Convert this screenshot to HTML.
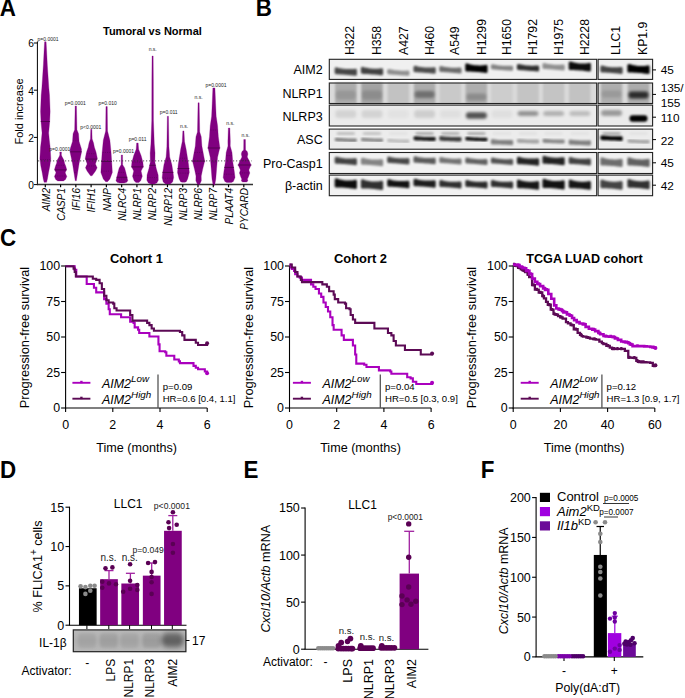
<!DOCTYPE html><html><head><meta charset="utf-8"><style>html,body{margin:0;padding:0;background:#fff;overflow:hidden}svg{display:block}text{font-family:"Liberation Sans",sans-serif}</style></head><body>
<svg width="685" height="698" viewBox="0 0 685 698">
<rect width="685" height="698" fill="#fff"/>
<text transform="translate(-0.20,16.40) scale(0.94,1)" font-size="23.8" font-weight="bold">A</text>
<text x="152.4" y="35.0" font-size="11" text-anchor="middle" font-weight="bold" font-style="normal" fill="#000" >Tumoral vs Normal</text>
<line x1="37.40" y1="41.50" x2="37.40" y2="185.10" stroke="#000" stroke-width="1" />
<line x1="36.90" y1="184.60" x2="253.00" y2="184.60" stroke="#333" stroke-width="1.5" />
<line x1="33.90" y1="184.60" x2="37.40" y2="184.60" stroke="#000" stroke-width="1" />
<text x="33.8" y="189.0" font-size="10.2" text-anchor="end" font-weight="normal" font-style="normal" fill="#000" >0</text>
<line x1="33.90" y1="137.40" x2="37.40" y2="137.40" stroke="#000" stroke-width="1" />
<text x="33.8" y="141.8" font-size="10.2" text-anchor="end" font-weight="normal" font-style="normal" fill="#000" >2</text>
<line x1="33.90" y1="90.20" x2="37.40" y2="90.20" stroke="#000" stroke-width="1" />
<text x="33.8" y="94.6" font-size="10.2" text-anchor="end" font-weight="normal" font-style="normal" fill="#000" >4</text>
<line x1="33.90" y1="43.00" x2="37.40" y2="43.00" stroke="#000" stroke-width="1" />
<text x="33.8" y="47.4" font-size="10.2" text-anchor="end" font-weight="normal" font-style="normal" fill="#000" >6</text>
<text transform="translate(23.3,111.5) rotate(-90)" font-size="11" text-anchor="middle">Fold increase</text>
<polygon points="46.10,41.70 46.57,50.00 47.32,65.00 48.17,78.00 48.83,88.00 49.49,95.00 50.14,111.40 49.67,122.00 48.64,132.90 49.30,140.00 50.14,147.00 50.80,158.60 49.86,166.00 48.45,172.90 47.42,179.00 46.57,182.30 44.13,182.30 43.28,179.00 42.25,172.90 40.84,166.00 39.90,158.60 40.56,147.00 41.40,140.00 42.06,132.90 41.03,122.00 40.56,111.40 41.21,95.00 41.87,88.00 42.53,78.00 43.38,65.00 44.13,50.00 44.60,41.70" fill="#800080" stroke="#800080" stroke-width="0.3" stroke-linejoin="round"/>
<line x1="40.73" y1="121.50" x2="49.97" y2="121.50" stroke="#4a0048" stroke-width="0.8" />
<polygon points="61.45,152.00 61.35,155.00 62.10,156.80 63.89,160.00 64.64,163.50 65.68,166.00 66.62,169.20 65.21,172.80 66.80,176.50 65.49,179.50 63.42,180.90 57.78,180.90 55.71,179.50 54.40,176.50 55.99,172.80 54.58,169.20 55.52,166.00 56.56,163.50 57.31,160.00 59.10,156.80 59.85,155.00 59.75,152.00" fill="#800080" stroke="#800080" stroke-width="0.3" stroke-linejoin="round"/>
<line x1="54.49" y1="169.90" x2="66.71" y2="169.90" stroke="#4a0048" stroke-width="0.8" />
<polygon points="76.46,106.00 76.93,129.80 78.53,133.70 79.09,141.50 81.53,149.20 81.35,153.00 79.09,163.40 77.68,172.40 76.36,180.80 75.24,180.80 73.92,172.40 72.51,163.40 70.25,153.00 70.07,149.20 72.51,141.50 73.07,133.70 74.67,129.80 75.14,106.00" fill="#800080" stroke="#800080" stroke-width="0.3" stroke-linejoin="round"/>
<line x1="69.84" y1="151.80" x2="81.76" y2="151.80" stroke="#4a0048" stroke-width="0.8" />
<polygon points="91.86,129.20 92.15,138.90 93.56,143.00 94.40,147.30 96.00,152.00 97.32,158.20 95.44,164.00 97.13,167.70 95.53,171.00 92.05,175.80 90.55,175.80 87.07,171.00 85.47,167.70 87.16,164.00 85.28,158.20 86.60,152.00 88.20,147.30 89.04,143.00 90.45,138.90 90.74,129.20" fill="#800080" stroke="#800080" stroke-width="0.3" stroke-linejoin="round"/>
<line x1="85.21" y1="159.10" x2="97.39" y2="159.10" stroke="#4a0048" stroke-width="0.8" />
<polygon points="107.26,106.60 107.54,131.10 109.89,140.20 111.11,153.00 112.05,167.30 112.33,172.40 109.89,178.90 107.54,181.70 105.66,181.70 103.31,178.90 100.87,172.40 101.15,167.30 102.09,153.00 103.31,140.20 105.66,131.10 105.94,106.60" fill="#800080" stroke="#800080" stroke-width="0.3" stroke-linejoin="round"/>
<line x1="101.21" y1="161.50" x2="111.99" y2="161.50" stroke="#4a0048" stroke-width="0.8" />
<polygon points="122.56,155.00 122.65,164.70 124.63,167.90 125.85,172.40 127.07,177.60 127.82,180.80 126.60,182.30 124.25,183.00 119.55,183.00 117.20,182.30 115.98,180.80 116.73,177.60 117.95,172.40 119.17,167.90 121.15,164.70 121.24,155.00" fill="#800080" stroke="#800080" stroke-width="0.3" stroke-linejoin="round"/>
<line x1="116.47" y1="177.30" x2="127.33" y2="177.30" stroke="#4a0048" stroke-width="0.8" />
<polygon points="138.15,143.00 138.62,149.20 141.07,155.60 142.85,162.10 143.32,166.60 141.07,171.10 142.29,176.30 140.69,180.80 138.81,182.50 135.99,182.50 134.11,180.80 132.51,176.30 133.73,171.10 131.48,166.60 131.95,162.10 133.73,155.60 136.18,149.20 136.65,143.00" fill="#800080" stroke="#800080" stroke-width="0.3" stroke-linejoin="round"/>
<line x1="131.26" y1="166.90" x2="143.54" y2="166.90" stroke="#4a0048" stroke-width="0.8" />
<polygon points="153.16,56.00 153.35,80.00 153.45,120.80 154.29,144.00 155.04,153.00 154.86,162.10 156.27,168.50 158.15,175.00 158.33,180.20 156.83,183.00 154.48,184.00 150.72,184.00 148.37,183.00 146.87,180.20 147.05,175.00 148.93,168.50 150.34,162.10 150.16,153.00 150.91,144.00 151.75,120.80 151.85,80.00 152.04,56.00" fill="#800080" stroke="#800080" stroke-width="0.3" stroke-linejoin="round"/>
<line x1="149.45" y1="165.30" x2="155.75" y2="165.30" stroke="#4a0048" stroke-width="0.8" />
<polygon points="168.46,116.30 168.93,146.60 169.69,156.90 171.85,164.70 173.07,172.40 173.63,177.60 172.60,182.00 170.25,184.00 165.55,184.00 163.20,182.00 162.17,177.60 162.73,172.40 163.95,164.70 166.11,156.90 166.87,146.60 167.34,116.30" fill="#800080" stroke="#800080" stroke-width="0.3" stroke-linejoin="round"/>
<line x1="162.40" y1="172.40" x2="173.40" y2="172.40" stroke="#4a0048" stroke-width="0.8" />
<polygon points="183.96,130.90 184.53,141.50 186.13,149.20 187.35,156.90 188.57,164.70 189.32,172.40 187.63,178.90 186.22,181.70 184.81,182.20 181.99,182.20 180.58,181.70 179.17,178.90 177.48,172.40 178.23,164.70 179.45,156.90 180.67,149.20 182.27,141.50 182.84,130.90" fill="#800080" stroke="#800080" stroke-width="0.3" stroke-linejoin="round"/>
<line x1="177.51" y1="168.50" x2="189.29" y2="168.50" stroke="#4a0048" stroke-width="0.8" />
<polygon points="199.16,102.80 199.73,132.00 201.23,136.70 201.89,146.10 203.39,154.00 204.71,161.10 202.55,169.80 201.23,176.00 201.33,180.80 199.54,184.70 197.66,184.70 195.87,180.80 195.97,176.00 194.65,169.80 192.49,161.10 193.81,154.00 195.31,146.10 195.97,136.70 197.47,132.00 198.04,102.80" fill="#800080" stroke="#800080" stroke-width="0.3" stroke-linejoin="round"/>
<line x1="192.10" y1="161.10" x2="205.10" y2="161.10" stroke="#4a0048" stroke-width="0.8" />
<polygon points="214.93,87.90 215.59,103.60 216.16,116.20 217.57,125.70 218.32,136.70 219.82,147.70 217.57,157.20 216.63,168.20 215.78,179.20 214.65,185.20 213.15,185.20 212.02,179.20 211.17,168.20 210.23,157.20 207.98,147.70 209.48,136.70 210.23,125.70 211.64,116.20 212.21,103.60 212.87,87.90" fill="#800080" stroke="#800080" stroke-width="0.3" stroke-linejoin="round"/>
<line x1="207.68" y1="148.00" x2="220.12" y2="148.00" stroke="#4a0048" stroke-width="0.8" />
<polygon points="229.85,128.00 230.32,141.40 230.23,146.10 232.01,152.40 232.77,161.90 234.27,171.30 235.02,177.60 233.33,181.50 231.45,182.40 226.75,182.40 224.87,181.50 223.18,177.60 223.93,171.30 225.43,161.90 226.19,152.40 227.97,146.10 227.88,141.40 228.35,128.00" fill="#800080" stroke="#800080" stroke-width="0.3" stroke-linejoin="round"/>
<line x1="224.26" y1="167.40" x2="233.94" y2="167.40" stroke="#4a0048" stroke-width="0.8" />
<polygon points="245.45,139.50 245.45,142.00 245.54,150.00 247.23,151.50 247.89,154.00 247.23,157.00 249.30,161.00 250.99,165.00 248.83,170.00 249.77,173.00 248.36,177.00 247.42,179.00 247.89,181.00 246.48,182.00 242.72,182.00 241.31,181.00 241.78,179.00 240.84,177.00 239.43,173.00 240.37,170.00 238.21,165.00 239.90,161.00 241.97,157.00 241.31,154.00 241.97,151.50 243.66,150.00 243.75,142.00 243.75,139.50" fill="#800080" stroke="#800080" stroke-width="0.3" stroke-linejoin="round"/>
<line x1="237.80" y1="165.00" x2="251.40" y2="165.00" stroke="#4a0048" stroke-width="0.8" />
<line x1="40.47" y1="159.50" x2="50.23" y2="159.50" stroke="#5a005a" stroke-width="0.7" stroke-dasharray="1,1.2"/>
<line x1="56.31" y1="165.30" x2="64.89" y2="165.30" stroke="#5a005a" stroke-width="0.7" stroke-dasharray="1,1.2"/>
<line x1="55.03" y1="176.00" x2="66.17" y2="176.00" stroke="#5a005a" stroke-width="0.7" stroke-dasharray="1,1.2"/>
<line x1="73.15" y1="140.80" x2="78.45" y2="140.80" stroke="#5a005a" stroke-width="0.7" stroke-dasharray="1,1.2"/>
<line x1="74.60" y1="172.40" x2="77.00" y2="172.40" stroke="#5a005a" stroke-width="0.7" stroke-dasharray="1,1.2"/>
<line x1="86.72" y1="153.70" x2="95.88" y2="153.70" stroke="#5a005a" stroke-width="0.7" stroke-dasharray="1,1.2"/>
<line x1="86.73" y1="166.00" x2="95.87" y2="166.00" stroke="#5a005a" stroke-width="0.7" stroke-dasharray="1,1.2"/>
<line x1="102.66" y1="152.40" x2="110.54" y2="152.40" stroke="#5a005a" stroke-width="0.7" stroke-dasharray="1,1.2"/>
<line x1="101.38" y1="171.10" x2="111.82" y2="171.10" stroke="#5a005a" stroke-width="0.7" stroke-dasharray="1,1.2"/>
<line x1="118.50" y1="172.40" x2="125.30" y2="172.40" stroke="#5a005a" stroke-width="0.7" stroke-dasharray="1,1.2"/>
<line x1="116.85" y1="179.00" x2="126.95" y2="179.00" stroke="#5a005a" stroke-width="0.7" stroke-dasharray="1,1.2"/>
<line x1="132.40" y1="162.10" x2="142.40" y2="162.10" stroke="#5a005a" stroke-width="0.7" stroke-dasharray="1,1.2"/>
<line x1="133.18" y1="175.60" x2="141.62" y2="175.60" stroke="#5a005a" stroke-width="0.7" stroke-dasharray="1,1.2"/>
<line x1="147.40" y1="177.60" x2="157.80" y2="177.60" stroke="#5a005a" stroke-width="0.7" stroke-dasharray="1,1.2"/>
<line x1="162.75" y1="178.20" x2="173.05" y2="178.20" stroke="#5a005a" stroke-width="0.7" stroke-dasharray="1,1.2"/>
<line x1="179.78" y1="158.20" x2="187.02" y2="158.20" stroke="#5a005a" stroke-width="0.7" stroke-dasharray="1,1.2"/>
<line x1="178.09" y1="173.10" x2="188.71" y2="173.10" stroke="#5a005a" stroke-width="0.7" stroke-dasharray="1,1.2"/>
<line x1="194.62" y1="152.40" x2="202.58" y2="152.40" stroke="#5a005a" stroke-width="0.7" stroke-dasharray="1,1.2"/>
<line x1="196.08" y1="173.70" x2="201.12" y2="173.70" stroke="#5a005a" stroke-width="0.7" stroke-dasharray="1,1.2"/>
<line x1="210.49" y1="130.00" x2="217.31" y2="130.00" stroke="#5a005a" stroke-width="0.7" stroke-dasharray="1,1.2"/>
<line x1="211.24" y1="162.00" x2="216.56" y2="162.00" stroke="#5a005a" stroke-width="0.7" stroke-dasharray="1,1.2"/>
<line x1="226.53" y1="155.60" x2="231.67" y2="155.60" stroke="#5a005a" stroke-width="0.7" stroke-dasharray="1,1.2"/>
<line x1="224.03" y1="174.20" x2="234.17" y2="174.20" stroke="#5a005a" stroke-width="0.7" stroke-dasharray="1,1.2"/>
<line x1="240.78" y1="160.30" x2="248.41" y2="160.30" stroke="#5a005a" stroke-width="0.7" stroke-dasharray="1,1.2"/>
<line x1="239.93" y1="172.90" x2="249.27" y2="172.90" stroke="#5a005a" stroke-width="0.7" stroke-dasharray="1,1.2"/>
<line x1="38.00" y1="160.90" x2="251.60" y2="160.90" stroke="#333" stroke-width="0.8" stroke-dasharray="1.2,1.8"/>
<text x="48.1" y="40.5" font-size="5.0" text-anchor="middle" font-weight="normal" font-style="normal" fill="#222" >p=0.0001</text>
<text x="59.8" y="151.3" font-size="5.0" text-anchor="middle" font-weight="normal" font-style="normal" fill="#222" >p=0.0001</text>
<text x="75.3" y="105.3" font-size="5.0" text-anchor="middle" font-weight="normal" font-style="normal" fill="#222" >p=0.0001</text>
<text x="90.8" y="129.0" font-size="5.0" text-anchor="middle" font-weight="normal" font-style="normal" fill="#222" >p&lt;0.0001</text>
<text x="107.7" y="105.3" font-size="5.0" text-anchor="middle" font-weight="normal" font-style="normal" fill="#222" >p=0.010</text>
<text x="123.6" y="152.7" font-size="5.0" text-anchor="middle" font-weight="normal" font-style="normal" fill="#222" >p=0.0001</text>
<text x="137.6" y="140.8" font-size="5.0" text-anchor="middle" font-weight="normal" font-style="normal" fill="#222" >p=0.011</text>
<text x="152.7" y="51.3" font-size="5.0" text-anchor="middle" font-weight="normal" font-style="normal" fill="#222" >n.s.</text>
<text x="168.7" y="113.9" font-size="5.0" text-anchor="middle" font-weight="normal" font-style="normal" fill="#222" >p=0.011</text>
<text x="184.1" y="127.5" font-size="5.0" text-anchor="middle" font-weight="normal" font-style="normal" fill="#222" >n.s.</text>
<text x="198.5" y="98.7" font-size="5.0" text-anchor="middle" font-weight="normal" font-style="normal" fill="#222" >n.s.</text>
<text x="216.0" y="87.0" font-size="5.0" text-anchor="middle" font-weight="normal" font-style="normal" fill="#222" >p=0.0001</text>
<text x="230.3" y="124.5" font-size="5.0" text-anchor="middle" font-weight="normal" font-style="normal" fill="#222" >n.s.</text>
<text x="245.5" y="137.2" font-size="5.0" text-anchor="middle" font-weight="normal" font-style="normal" fill="#222" >n.s.</text>
<line x1="45.30" y1="184.60" x2="45.30" y2="187.20" stroke="#000" stroke-width="1.2" />
<text transform="translate(49.50,188) rotate(-90)" font-size="10" font-style="italic" text-anchor="end">AIM2</text>
<line x1="60.57" y1="184.60" x2="60.57" y2="187.20" stroke="#000" stroke-width="1.2" />
<text transform="translate(64.77,188) rotate(-90)" font-size="10" font-style="italic" text-anchor="end">CASP1</text>
<line x1="75.84" y1="184.60" x2="75.84" y2="187.20" stroke="#000" stroke-width="1.2" />
<text transform="translate(80.04,188) rotate(-90)" font-size="10" font-style="italic" text-anchor="end">IFI16</text>
<line x1="91.11" y1="184.60" x2="91.11" y2="187.20" stroke="#000" stroke-width="1.2" />
<text transform="translate(95.31,188) rotate(-90)" font-size="10" font-style="italic" text-anchor="end">IFIH1</text>
<line x1="106.38" y1="184.60" x2="106.38" y2="187.20" stroke="#000" stroke-width="1.2" />
<text transform="translate(110.58,188) rotate(-90)" font-size="10" font-style="italic" text-anchor="end">NAIP</text>
<line x1="121.65" y1="184.60" x2="121.65" y2="187.20" stroke="#000" stroke-width="1.2" />
<text transform="translate(125.85,188) rotate(-90)" font-size="10" font-style="italic" text-anchor="end">NLRC4</text>
<line x1="136.92" y1="184.60" x2="136.92" y2="187.20" stroke="#000" stroke-width="1.2" />
<text transform="translate(141.12,188) rotate(-90)" font-size="10" font-style="italic" text-anchor="end">NLRP1</text>
<line x1="152.19" y1="184.60" x2="152.19" y2="187.20" stroke="#000" stroke-width="1.2" />
<text transform="translate(156.39,188) rotate(-90)" font-size="10" font-style="italic" text-anchor="end">NLRP2</text>
<line x1="167.46" y1="184.60" x2="167.46" y2="187.20" stroke="#000" stroke-width="1.2" />
<text transform="translate(171.66,188) rotate(-90)" font-size="10" font-style="italic" text-anchor="end">NLRP12</text>
<line x1="182.73" y1="184.60" x2="182.73" y2="187.20" stroke="#000" stroke-width="1.2" />
<text transform="translate(186.93,188) rotate(-90)" font-size="10" font-style="italic" text-anchor="end">NLRP3</text>
<line x1="198.00" y1="184.60" x2="198.00" y2="187.20" stroke="#000" stroke-width="1.2" />
<text transform="translate(202.20,188) rotate(-90)" font-size="10" font-style="italic" text-anchor="end">NLRP6</text>
<line x1="213.27" y1="184.60" x2="213.27" y2="187.20" stroke="#000" stroke-width="1.2" />
<text transform="translate(217.47,188) rotate(-90)" font-size="10" font-style="italic" text-anchor="end">NLRP7</text>
<line x1="228.54" y1="184.60" x2="228.54" y2="187.20" stroke="#000" stroke-width="1.2" />
<text transform="translate(232.74,188) rotate(-90)" font-size="10" font-style="italic" text-anchor="end">PLAAT4</text>
<line x1="243.81" y1="184.60" x2="243.81" y2="187.20" stroke="#000" stroke-width="1.2" />
<text transform="translate(248.01,188) rotate(-90)" font-size="10" font-style="italic" text-anchor="end">PYCARD</text>
<text transform="translate(255.80,16.20) scale(0.94,1)" font-size="23.8" font-weight="bold">B</text>
<text transform="translate(354.4,55) rotate(-90)" font-size="12.2">H322</text>
<text transform="translate(381.4,55) rotate(-90)" font-size="12.2">H358</text>
<text transform="translate(407.9,55) rotate(-90)" font-size="12.2">A427</text>
<text transform="translate(434.4,55) rotate(-90)" font-size="12.2">H460</text>
<text transform="translate(459.4,55) rotate(-90)" font-size="12.2">A549</text>
<text transform="translate(485.8,55) rotate(-90)" font-size="12.2">H1299</text>
<text transform="translate(511.4,55) rotate(-90)" font-size="12.2">H1650</text>
<text transform="translate(537.4,55) rotate(-90)" font-size="12.2">H1792</text>
<text transform="translate(563.0,55) rotate(-90)" font-size="12.2">H1975</text>
<text transform="translate(589.2,55) rotate(-90)" font-size="12.2">H2228</text>
<text transform="translate(620.4,55) rotate(-90)" font-size="12.2">LLC1</text>
<text transform="translate(647.4,55) rotate(-90)" font-size="12.2">KP1.9</text>
<defs><filter id="bl6" x="-50%" y="-100%" width="200%" height="300%"><feGaussianBlur stdDeviation="0.6"/></filter><filter id="bl7" x="-50%" y="-100%" width="200%" height="300%"><feGaussianBlur stdDeviation="0.7"/></filter><filter id="bl8" x="-50%" y="-100%" width="200%" height="300%"><feGaussianBlur stdDeviation="0.8"/></filter><filter id="bl9" x="-50%" y="-100%" width="200%" height="300%"><feGaussianBlur stdDeviation="0.9"/></filter><filter id="bl10" x="-50%" y="-100%" width="200%" height="300%"><feGaussianBlur stdDeviation="1.0"/></filter><filter id="bl11" x="-50%" y="-100%" width="200%" height="300%"><feGaussianBlur stdDeviation="1.1"/></filter><filter id="bl14" x="-50%" y="-100%" width="200%" height="300%"><feGaussianBlur stdDeviation="1.4"/></filter><filter id="bl16" x="-50%" y="-100%" width="200%" height="300%"><feGaussianBlur stdDeviation="1.6"/></filter><filter id="bl18" x="-50%" y="-100%" width="200%" height="300%"><feGaussianBlur stdDeviation="1.8"/></filter><filter id="bl20" x="-50%" y="-100%" width="200%" height="300%"><feGaussianBlur stdDeviation="2.0"/></filter><filter id="bl25" x="-50%" y="-100%" width="200%" height="300%"><feGaussianBlur stdDeviation="2.5"/></filter><clipPath id="cl"><rect x="329.3" y="0" width="267.4" height="698"/></clipPath><clipPath id="cr"><rect x="598.1" y="0" width="54.5" height="698"/></clipPath></defs>
<rect x="329.30" y="59.30" width="267.40" height="20.10" fill="#f0f0f0" />
<rect x="598.10" y="59.30" width="54.50" height="20.10" fill="#f0f0f0" />
<g clip-path="url(#cl)"><g opacity="0.70" filter="url(#bl8)"><path d="M336.15,68.74 L337.53,69.11 L338.91,69.44 L340.29,69.72 L341.66,69.97 L343.04,70.18 L344.42,70.35 L345.80,70.47 L347.18,70.56 L348.56,70.61 L349.94,70.62 L351.31,70.58 L352.69,70.51 L354.07,70.39 L355.45,70.24 L355.45,74.26 L354.07,74.09 L352.69,73.93 L351.31,73.78 L349.94,73.64 L348.56,73.51 L347.18,73.39 L345.80,73.28 L344.42,73.17 L343.04,73.08 L341.66,73.00 L340.29,72.92 L338.91,72.86 L337.53,72.81 L336.15,72.76Z" fill="#000" stroke="#000" stroke-width="3" stroke-linejoin="round"/></g></g>
<g clip-path="url(#cl)"><g opacity="0.72" filter="url(#bl8)"><path d="M362.35,68.34 L363.73,68.71 L365.11,69.04 L366.49,69.32 L367.86,69.57 L369.24,69.78 L370.62,69.95 L372.00,70.08 L373.38,70.16 L374.76,70.21 L376.14,70.22 L377.51,70.18 L378.89,70.11 L380.27,69.99 L381.65,69.84 L381.65,73.86 L380.27,73.69 L378.89,73.53 L377.51,73.38 L376.14,73.24 L374.76,73.11 L373.38,72.99 L372.00,72.88 L370.62,72.77 L369.24,72.68 L367.86,72.60 L366.49,72.52 L365.11,72.46 L363.73,72.41 L362.35,72.36Z" fill="#000" stroke="#000" stroke-width="3" stroke-linejoin="round"/></g></g>
<g clip-path="url(#cl)"><g opacity="0.40" filter="url(#bl8)"><path d="M388.65,70.50 L390.03,70.80 L391.41,71.07 L392.79,71.31 L394.16,71.52 L395.54,71.70 L396.92,71.85 L398.30,71.98 L399.68,72.07 L401.06,72.13 L402.44,72.16 L403.81,72.17 L405.19,72.14 L406.57,72.09 L407.95,72.00 L407.95,74.30 L406.57,74.20 L405.19,74.10 L403.81,74.00 L402.44,73.89 L401.06,73.79 L399.68,73.68 L398.30,73.58 L396.92,73.47 L395.54,73.36 L394.16,73.25 L392.79,73.14 L391.41,73.03 L390.03,72.91 L388.65,72.80Z" fill="#000" stroke="#000" stroke-width="3" stroke-linejoin="round"/></g></g>
<g clip-path="url(#cl)"><g opacity="0.68" filter="url(#bl8)"><path d="M414.95,67.23 L416.33,67.57 L417.71,67.88 L419.09,68.15 L420.46,68.39 L421.84,68.59 L423.22,68.75 L424.60,68.88 L425.98,68.96 L427.36,69.02 L428.74,69.03 L430.11,69.01 L431.49,68.95 L432.87,68.86 L434.25,68.73 L434.25,72.17 L432.87,72.03 L431.49,71.89 L430.11,71.75 L428.74,71.62 L427.36,71.50 L425.98,71.39 L424.60,71.28 L423.22,71.17 L421.84,71.07 L420.46,70.98 L419.09,70.90 L417.71,70.82 L416.33,70.74 L414.95,70.67Z" fill="#000" stroke="#000" stroke-width="3" stroke-linejoin="round"/></g></g>
<g clip-path="url(#cl)"><g opacity="0.55" filter="url(#bl8)"><path d="M440.75,67.51 L442.13,67.84 L443.51,68.12 L444.89,68.38 L446.26,68.60 L447.64,68.79 L449.02,68.95 L450.40,69.08 L451.78,69.17 L453.16,69.22 L454.54,69.25 L455.91,69.24 L457.29,69.20 L458.67,69.12 L460.05,69.01 L460.05,71.89 L458.67,71.76 L457.29,71.64 L455.91,71.52 L454.54,71.41 L453.16,71.29 L451.78,71.18 L450.40,71.08 L449.02,70.97 L447.64,70.87 L446.26,70.77 L444.89,70.67 L443.51,70.57 L442.13,70.48 L440.75,70.39Z" fill="#000" stroke="#000" stroke-width="3" stroke-linejoin="round"/></g></g>
<g clip-path="url(#cl)"><g opacity="1.00" filter="url(#bl8)"><path d="M466.75,64.86 L468.13,65.28 L469.51,65.65 L470.89,65.97 L472.26,66.24 L473.64,66.47 L475.02,66.64 L476.40,66.78 L477.78,66.86 L479.16,66.89 L480.54,66.88 L481.91,66.82 L483.29,66.72 L484.67,66.56 L486.05,66.36 L486.05,71.54 L484.67,71.32 L483.29,71.12 L481.91,70.94 L480.54,70.77 L479.16,70.62 L477.78,70.49 L476.40,70.38 L475.02,70.28 L473.64,70.19 L472.26,70.13 L470.89,70.08 L469.51,70.05 L468.13,70.04 L466.75,70.04Z" fill="#000" stroke="#000" stroke-width="3" stroke-linejoin="round"/></g></g>
<g clip-path="url(#cl)"><g opacity="0.45" filter="url(#bl8)"><path d="M492.35,65.72 L493.73,66.01 L495.11,66.27 L496.49,66.50 L497.86,66.71 L499.24,66.88 L500.62,67.03 L502.00,67.16 L503.38,67.25 L504.76,67.31 L506.14,67.35 L507.51,67.36 L508.89,67.34 L510.27,67.29 L511.65,67.22 L511.65,69.28 L510.27,69.19 L508.89,69.10 L507.51,69.00 L506.14,68.91 L504.76,68.80 L503.38,68.70 L502.00,68.59 L500.62,68.49 L499.24,68.38 L497.86,68.26 L496.49,68.15 L495.11,68.03 L493.73,67.91 L492.35,67.78Z" fill="#000" stroke="#000" stroke-width="3" stroke-linejoin="round"/></g></g>
<g clip-path="url(#cl)"><g opacity="0.80" filter="url(#bl8)"><path d="M518.35,65.40 L519.73,65.73 L521.11,66.03 L522.49,66.29 L523.86,66.52 L525.24,66.71 L526.62,66.87 L528.00,67.00 L529.38,67.08 L530.76,67.14 L532.14,67.16 L533.51,67.15 L534.89,67.10 L536.27,67.02 L537.65,66.90 L537.65,70.00 L536.27,69.87 L534.89,69.74 L533.51,69.62 L532.14,69.49 L530.76,69.38 L529.38,69.26 L528.00,69.16 L526.62,69.05 L525.24,68.95 L523.86,68.85 L522.49,68.76 L521.11,68.67 L519.73,68.58 L518.35,68.50Z" fill="#000" stroke="#000" stroke-width="3" stroke-linejoin="round"/></g></g>
<g clip-path="url(#cl)"><g opacity="0.40" filter="url(#bl8)"><path d="M543.95,64.51 L545.33,64.84 L546.71,65.12 L548.09,65.38 L549.46,65.60 L550.84,65.79 L552.22,65.95 L553.60,66.08 L554.98,66.17 L556.36,66.22 L557.74,66.25 L559.11,66.24 L560.49,66.20 L561.87,66.12 L563.25,66.01 L563.25,68.89 L561.87,68.76 L560.49,68.64 L559.11,68.52 L557.74,68.41 L556.36,68.29 L554.98,68.18 L553.60,68.08 L552.22,67.97 L550.84,67.87 L549.46,67.77 L548.09,67.67 L546.71,67.57 L545.33,67.48 L543.95,67.39Z" fill="#000" stroke="#000" stroke-width="3" stroke-linejoin="round"/></g></g>
<g clip-path="url(#cl)"><g opacity="0.95" filter="url(#bl8)"><path d="M570.15,62.88 L571.53,63.31 L572.91,63.70 L574.29,64.04 L575.66,64.32 L577.04,64.56 L578.42,64.74 L579.80,64.88 L581.18,64.96 L582.56,64.99 L583.94,64.97 L585.31,64.90 L586.69,64.77 L588.07,64.60 L589.45,64.38 L589.45,70.12 L588.07,69.89 L586.69,69.67 L585.31,69.47 L583.94,69.29 L582.56,69.13 L581.18,68.99 L579.80,68.88 L578.42,68.78 L577.04,68.70 L575.66,68.65 L574.29,68.61 L572.91,68.59 L571.53,68.60 L570.15,68.62Z" fill="#000" stroke="#000" stroke-width="3" stroke-linejoin="round"/></g></g>
<g clip-path="url(#cr)"><g opacity="0.72" filter="url(#bl8)"><path d="M601.85,66.94 L603.23,67.31 L604.61,67.64 L605.99,67.92 L607.36,68.17 L608.74,68.38 L610.12,68.55 L611.50,68.67 L612.88,68.76 L614.26,68.81 L615.64,68.82 L617.01,68.78 L618.39,68.71 L619.77,68.59 L621.15,68.44 L621.15,72.46 L619.77,72.29 L618.39,72.13 L617.01,71.98 L615.64,71.84 L614.26,71.71 L612.88,71.59 L611.50,71.48 L610.12,71.37 L608.74,71.28 L607.36,71.20 L605.99,71.12 L604.61,71.06 L603.23,71.01 L601.85,70.96Z" fill="#000" stroke="#000" stroke-width="3" stroke-linejoin="round"/></g></g>
<g clip-path="url(#cr)"><g opacity="1.00" filter="url(#bl8)"><path d="M628.85,65.38 L630.23,65.81 L631.61,66.20 L632.99,66.54 L634.36,66.82 L635.74,67.06 L637.12,67.24 L638.50,67.38 L639.88,67.46 L641.26,67.49 L642.64,67.47 L644.01,67.40 L645.39,67.27 L646.77,67.10 L648.15,66.88 L648.15,72.62 L646.77,72.39 L645.39,72.17 L644.01,71.97 L642.64,71.79 L641.26,71.63 L639.88,71.49 L638.50,71.38 L637.12,71.28 L635.74,71.20 L634.36,71.15 L632.99,71.11 L631.61,71.09 L630.23,71.10 L628.85,71.12Z" fill="#000" stroke="#000" stroke-width="3" stroke-linejoin="round"/></g></g>
<rect x="329.30" y="59.30" width="267.40" height="20.10" fill="none" stroke="#222" stroke-width="1.1"/>
<rect x="598.10" y="59.30" width="54.50" height="20.10" fill="none" stroke="#222" stroke-width="1.1"/>
<text x="322.7" y="73.9" font-size="12.5" text-anchor="end" font-weight="normal" font-style="normal" fill="#000" >AIM2</text>
<rect x="329.30" y="83.00" width="267.40" height="20.50" fill="#dadada" />
<rect x="598.10" y="83.00" width="54.50" height="20.50" fill="#dadada" />
<g clip-path="url(#cl)"><rect x="335.1" y="82.7" width="21.5" height="21.0" rx="1" fill="#000" fill-opacity="0.21" filter="url(#bl11)"/></g>
<g clip-path="url(#cl)"><rect x="335.8" y="90.5" width="20.0" height="9.0" rx="3" fill="#000" fill-opacity="0.12" filter="url(#bl18)"/></g>
<g clip-path="url(#cl)"><rect x="361.2" y="82.7" width="21.5" height="21.0" rx="1" fill="#000" fill-opacity="0.25" filter="url(#bl11)"/></g>
<g clip-path="url(#cl)"><rect x="362.0" y="90.5" width="20.0" height="9.0" rx="3" fill="#000" fill-opacity="0.14" filter="url(#bl18)"/></g>
<g clip-path="url(#cl)"><rect x="387.6" y="82.7" width="21.5" height="21.0" rx="1" fill="#000" fill-opacity="0.11" filter="url(#bl11)"/></g>
<g clip-path="url(#cl)"><rect x="413.9" y="82.7" width="21.5" height="21.0" rx="1" fill="#000" fill-opacity="0.21" filter="url(#bl11)"/></g>
<g clip-path="url(#cl)"><rect x="414.6" y="90.9" width="20.0" height="7.0" rx="3" fill="#000" fill-opacity="0.35" filter="url(#bl18)"/></g>
<g clip-path="url(#cl)"><rect x="439.6" y="82.7" width="21.5" height="21.0" rx="1" fill="#000" fill-opacity="0.08" filter="url(#bl11)"/></g>
<g clip-path="url(#cl)"><rect x="465.6" y="82.7" width="21.5" height="21.0" rx="1" fill="#000" fill-opacity="0.20" filter="url(#bl11)"/></g>
<g clip-path="url(#cl)"><rect x="466.4" y="93.5" width="20.0" height="7.0" rx="3" fill="#000" fill-opacity="0.20" filter="url(#bl18)"/></g>
<g clip-path="url(#cl)"><rect x="491.2" y="82.7" width="21.5" height="21.0" rx="1" fill="#000" fill-opacity="0.06" filter="url(#bl11)"/></g>
<g clip-path="url(#cl)"><rect x="517.2" y="82.7" width="21.5" height="21.0" rx="1" fill="#000" fill-opacity="0.10" filter="url(#bl11)"/></g>
<g clip-path="url(#cl)"><rect x="542.9" y="82.7" width="21.5" height="21.0" rx="1" fill="#000" fill-opacity="0.10" filter="url(#bl11)"/></g>
<g clip-path="url(#cl)"><rect x="569.0" y="82.7" width="21.5" height="21.0" rx="1" fill="#000" fill-opacity="0.11" filter="url(#bl11)"/></g>
<g clip-path="url(#cr)"><rect x="600.8" y="82.7" width="21.5" height="21.0" rx="1" fill="#000" fill-opacity="0.20" filter="url(#bl11)"/></g>
<g clip-path="url(#cr)"><rect x="601.5" y="90.5" width="20.0" height="7.0" rx="3" fill="#000" fill-opacity="0.12" filter="url(#bl18)"/></g>
<g clip-path="url(#cr)"><rect x="627.8" y="82.7" width="21.5" height="21.0" rx="1" fill="#000" fill-opacity="0.21" filter="url(#bl11)"/></g>
<g clip-path="url(#cr)"><rect x="628.5" y="91.5" width="20.0" height="7.0" rx="3" fill="#000" fill-opacity="0.75" filter="url(#bl18)"/></g>
<rect x="329.30" y="83.00" width="267.40" height="20.50" fill="none" stroke="#222" stroke-width="1.1"/>
<rect x="598.10" y="83.00" width="54.50" height="20.50" fill="none" stroke="#222" stroke-width="1.1"/>
<text x="322.7" y="98.4" font-size="12.5" text-anchor="end" font-weight="normal" font-style="normal" fill="#000" >NLRP1</text>
<rect x="329.30" y="105.10" width="267.40" height="20.90" fill="#ebebeb" />
<rect x="598.10" y="105.10" width="54.50" height="20.90" fill="#ebebeb" />
<g clip-path="url(#cl)"><rect x="335.3" y="110.0" width="21.0" height="8.0" rx="3" fill="#000" fill-opacity="0.10" filter="url(#bl16)"/></g>
<g clip-path="url(#cl)"><rect x="361.5" y="110.0" width="21.0" height="8.0" rx="3" fill="#000" fill-opacity="0.10" filter="url(#bl16)"/></g>
<g clip-path="url(#cl)"><rect x="387.8" y="110.0" width="21.0" height="8.0" rx="3" fill="#000" fill-opacity="0.04" filter="url(#bl16)"/></g>
<g clip-path="url(#cl)"><rect x="414.1" y="110.0" width="21.0" height="8.0" rx="3" fill="#000" fill-opacity="0.12" filter="url(#bl16)"/></g>
<g clip-path="url(#cl)"><rect x="439.9" y="110.0" width="21.0" height="8.0" rx="3" fill="#000" fill-opacity="0.05" filter="url(#bl16)"/></g>
<g clip-path="url(#cl)"><rect x="465.9" y="112.2" width="21.0" height="6.5" rx="3" fill="#000" fill-opacity="0.65" filter="url(#bl16)"/></g>
<g clip-path="url(#cl)"><rect x="491.5" y="110.0" width="21.0" height="8.0" rx="3" fill="#000" fill-opacity="0.05" filter="url(#bl16)"/></g>
<g clip-path="url(#cl)"><rect x="517.5" y="111.0" width="21.0" height="5.0" rx="3" fill="#000" fill-opacity="0.38" filter="url(#bl16)"/></g>
<g clip-path="url(#cl)"><rect x="543.1" y="111.0" width="21.0" height="5.0" rx="3" fill="#000" fill-opacity="0.25" filter="url(#bl16)"/></g>
<g clip-path="url(#cl)"><rect x="569.3" y="111.0" width="21.0" height="5.0" rx="3" fill="#000" fill-opacity="0.20" filter="url(#bl16)"/></g>
<g clip-path="url(#cr)"><rect x="601.0" y="110.0" width="21.0" height="6.0" rx="3" fill="#000" fill-opacity="0.35" filter="url(#bl16)"/></g>
<g clip-path="url(#cr)"><rect x="629.5" y="115.2" width="18.0" height="6.5" rx="3" fill="#000" fill-opacity="1.00" filter="url(#bl10)"/></g>
<rect x="329.30" y="105.10" width="267.40" height="20.90" fill="none" stroke="#222" stroke-width="1.1"/>
<rect x="598.10" y="105.10" width="54.50" height="20.90" fill="none" stroke="#222" stroke-width="1.1"/>
<text x="322.7" y="120.8" font-size="12.5" text-anchor="end" font-weight="normal" font-style="normal" fill="#000" >NLRP3</text>
<rect x="329.30" y="129.10" width="267.40" height="20.10" fill="#ececec" />
<rect x="598.10" y="129.10" width="54.50" height="20.10" fill="#ececec" />
<g clip-path="url(#cl)"><g opacity="0.45" filter="url(#bl9)"><path d="M336.15,139.15 L337.53,139.29 L338.91,139.41 L340.29,139.52 L341.66,139.62 L343.04,139.70 L344.42,139.78 L345.80,139.84 L347.18,139.89 L348.56,139.93 L349.94,139.96 L351.31,139.97 L352.69,139.98 L354.07,139.97 L355.45,139.95 L355.45,140.53 L354.07,140.50 L352.69,140.47 L351.31,140.43 L349.94,140.39 L348.56,140.35 L347.18,140.29 L345.80,140.24 L344.42,140.18 L343.04,140.12 L341.66,140.05 L340.29,139.97 L338.91,139.90 L337.53,139.81 L336.15,139.73Z" fill="#000" stroke="#000" stroke-width="3" stroke-linejoin="round"/></g></g>
<g clip-path="url(#cl)"><g opacity="0.42" filter="url(#bl9)"><path d="M362.35,139.15 L363.73,139.29 L365.11,139.41 L366.49,139.52 L367.86,139.62 L369.24,139.70 L370.62,139.78 L372.00,139.84 L373.38,139.89 L374.76,139.93 L376.14,139.96 L377.51,139.97 L378.89,139.98 L380.27,139.97 L381.65,139.95 L381.65,140.53 L380.27,140.50 L378.89,140.47 L377.51,140.43 L376.14,140.39 L374.76,140.35 L373.38,140.29 L372.00,140.24 L370.62,140.18 L369.24,140.12 L367.86,140.05 L366.49,139.97 L365.11,139.90 L363.73,139.81 L362.35,139.73Z" fill="#000" stroke="#000" stroke-width="3" stroke-linejoin="round"/></g></g>
<g clip-path="url(#cl)"><g opacity="0.20" filter="url(#bl9)"><path d="M388.65,140.21 L390.03,140.34 L391.41,140.46 L392.79,140.56 L394.16,140.66 L395.54,140.74 L396.92,140.82 L398.30,140.88 L399.68,140.93 L401.06,140.97 L402.44,141.00 L403.81,141.02 L405.19,141.03 L406.57,141.02 L407.95,141.01 L407.95,141.47 L406.57,141.45 L405.19,141.42 L403.81,141.39 L402.44,141.35 L401.06,141.30 L399.68,141.25 L398.30,141.20 L396.92,141.14 L395.54,141.08 L394.16,141.00 L392.79,140.93 L391.41,140.85 L390.03,140.76 L388.65,140.67Z" fill="#000" stroke="#000" stroke-width="3" stroke-linejoin="round"/></g></g>
<g clip-path="url(#cl)"><g opacity="0.90" filter="url(#bl9)"><path d="M414.95,137.67 L416.33,137.82 L417.71,137.96 L419.09,138.09 L420.46,138.20 L421.84,138.30 L423.22,138.38 L424.60,138.44 L425.98,138.49 L427.36,138.52 L428.74,138.54 L430.11,138.55 L431.49,138.53 L432.87,138.51 L434.25,138.47 L434.25,139.62 L432.87,139.56 L431.49,139.51 L430.11,139.46 L428.74,139.41 L427.36,139.35 L425.98,139.30 L424.60,139.24 L423.22,139.18 L421.84,139.12 L420.46,139.06 L419.09,139.00 L417.71,138.94 L416.33,138.88 L414.95,138.81Z" fill="#000" stroke="#000" stroke-width="3" stroke-linejoin="round"/></g></g>
<g clip-path="url(#cl)"><g opacity="0.75" filter="url(#bl9)"><path d="M440.75,137.58 L442.13,137.76 L443.51,137.92 L444.89,138.06 L446.26,138.18 L447.64,138.29 L449.02,138.37 L450.40,138.44 L451.78,138.49 L453.16,138.52 L454.54,138.53 L455.91,138.52 L457.29,138.49 L458.67,138.44 L460.05,138.38 L460.05,140.10 L458.67,140.03 L457.29,139.96 L455.91,139.89 L454.54,139.82 L453.16,139.76 L451.78,139.70 L450.40,139.64 L449.02,139.58 L447.64,139.53 L446.26,139.48 L444.89,139.43 L443.51,139.39 L442.13,139.34 L440.75,139.30Z" fill="#000" stroke="#000" stroke-width="3" stroke-linejoin="round"/></g></g>
<g clip-path="url(#cl)"><g opacity="0.95" filter="url(#bl9)"><path d="M466.75,138.35 L468.13,138.49 L469.51,138.61 L470.89,138.72 L472.26,138.82 L473.64,138.90 L475.02,138.98 L476.40,139.04 L477.78,139.09 L479.16,139.13 L480.54,139.16 L481.91,139.17 L483.29,139.18 L484.67,139.17 L486.05,139.15 L486.05,139.73 L484.67,139.70 L483.29,139.67 L481.91,139.63 L480.54,139.59 L479.16,139.55 L477.78,139.49 L476.40,139.44 L475.02,139.38 L473.64,139.32 L472.26,139.25 L470.89,139.17 L469.51,139.10 L468.13,139.01 L466.75,138.93Z" fill="#000" stroke="#000" stroke-width="3" stroke-linejoin="round"/></g></g>
<g clip-path="url(#cl)"><g opacity="0.45" filter="url(#bl9)"><path d="M492.35,140.59 L493.73,140.79 L495.11,140.97 L496.49,141.13 L497.86,141.27 L499.24,141.38 L500.62,141.47 L502.00,141.54 L503.38,141.59 L504.76,141.61 L506.14,141.61 L507.51,141.59 L508.89,141.55 L510.27,141.48 L511.65,141.39 L511.65,143.69 L510.27,143.59 L508.89,143.50 L507.51,143.42 L506.14,143.34 L504.76,143.27 L503.38,143.20 L502.00,143.14 L500.62,143.09 L499.24,143.04 L497.86,143.00 L496.49,142.96 L495.11,142.93 L493.73,142.91 L492.35,142.89Z" fill="#000" stroke="#000" stroke-width="3" stroke-linejoin="round"/></g></g>
<g clip-path="url(#cl)"><g opacity="0.30" filter="url(#bl9)"><path d="M518.35,140.17 L519.73,140.32 L521.11,140.46 L522.49,140.59 L523.86,140.70 L525.24,140.80 L526.62,140.88 L528.00,140.94 L529.38,140.99 L530.76,141.02 L532.14,141.04 L533.51,141.05 L534.89,141.03 L536.27,141.01 L537.65,140.97 L537.65,142.12 L536.27,142.06 L534.89,142.01 L533.51,141.96 L532.14,141.91 L530.76,141.85 L529.38,141.80 L528.00,141.74 L526.62,141.68 L525.24,141.62 L523.86,141.56 L522.49,141.50 L521.11,141.44 L519.73,141.38 L518.35,141.31Z" fill="#000" stroke="#000" stroke-width="3" stroke-linejoin="round"/></g></g>
<g clip-path="url(#cl)"><g opacity="0.42" filter="url(#bl9)"><path d="M543.95,140.17 L545.33,140.32 L546.71,140.46 L548.09,140.59 L549.46,140.70 L550.84,140.80 L552.22,140.88 L553.60,140.94 L554.98,140.99 L556.36,141.02 L557.74,141.04 L559.11,141.05 L560.49,141.03 L561.87,141.01 L563.25,140.97 L563.25,142.12 L561.87,142.06 L560.49,142.01 L559.11,141.96 L557.74,141.91 L556.36,141.85 L554.98,141.80 L553.60,141.74 L552.22,141.68 L550.84,141.62 L549.46,141.56 L548.09,141.50 L546.71,141.44 L545.33,141.38 L543.95,141.31Z" fill="#000" stroke="#000" stroke-width="3" stroke-linejoin="round"/></g></g>
<g clip-path="url(#cl)"><g opacity="0.45" filter="url(#bl9)"><path d="M570.15,140.99 L571.53,141.19 L572.91,141.37 L574.29,141.53 L575.66,141.67 L577.04,141.78 L578.42,141.87 L579.80,141.94 L581.18,141.99 L582.56,142.01 L583.94,142.01 L585.31,141.99 L586.69,141.95 L588.07,141.88 L589.45,141.79 L589.45,144.09 L588.07,143.99 L586.69,143.90 L585.31,143.82 L583.94,143.74 L582.56,143.67 L581.18,143.60 L579.80,143.54 L578.42,143.49 L577.04,143.44 L575.66,143.40 L574.29,143.36 L572.91,143.33 L571.53,143.31 L570.15,143.29Z" fill="#000" stroke="#000" stroke-width="3" stroke-linejoin="round"/></g></g>
<g clip-path="url(#cr)"><g opacity="1.00" filter="url(#bl9)"><path d="M601.85,136.88 L603.23,137.06 L604.61,137.22 L605.99,137.36 L607.36,137.48 L608.74,137.59 L610.12,137.67 L611.50,137.74 L612.88,137.79 L614.26,137.82 L615.64,137.83 L617.01,137.82 L618.39,137.79 L619.77,137.74 L621.15,137.68 L621.15,139.40 L619.77,139.33 L618.39,139.26 L617.01,139.19 L615.64,139.12 L614.26,139.06 L612.88,139.00 L611.50,138.94 L610.12,138.88 L608.74,138.83 L607.36,138.78 L605.99,138.73 L604.61,138.69 L603.23,138.64 L601.85,138.60Z" fill="#000" stroke="#000" stroke-width="3" stroke-linejoin="round"/></g></g>
<g clip-path="url(#cr)"><g opacity="0.30" filter="url(#bl9)"><path d="M628.85,140.65 L630.23,140.79 L631.61,140.91 L632.99,141.02 L634.36,141.12 L635.74,141.20 L637.12,141.28 L638.50,141.34 L639.88,141.39 L641.26,141.43 L642.64,141.46 L644.01,141.47 L645.39,141.48 L646.77,141.47 L648.15,141.45 L648.15,142.03 L646.77,142.00 L645.39,141.97 L644.01,141.93 L642.64,141.89 L641.26,141.85 L639.88,141.79 L638.50,141.74 L637.12,141.68 L635.74,141.62 L634.36,141.55 L632.99,141.47 L631.61,141.40 L630.23,141.31 L628.85,141.23Z" fill="#000" stroke="#000" stroke-width="3" stroke-linejoin="round"/></g></g>
<g clip-path="url(#cl)"><rect x="336.3" y="132.2" width="19.0" height="2.5" rx="3" fill="#000" fill-opacity="0.22" filter="url(#bl8)"/></g>
<g clip-path="url(#cl)"><rect x="362.5" y="132.2" width="19.0" height="2.5" rx="3" fill="#000" fill-opacity="0.20" filter="url(#bl8)"/></g>
<g clip-path="url(#cl)"><rect x="388.8" y="132.2" width="19.0" height="2.5" rx="3" fill="#000" fill-opacity="0.05" filter="url(#bl8)"/></g>
<g clip-path="url(#cl)"><rect x="415.1" y="132.2" width="19.0" height="2.5" rx="3" fill="#000" fill-opacity="0.30" filter="url(#bl8)"/></g>
<g clip-path="url(#cl)"><rect x="440.9" y="132.2" width="19.0" height="2.5" rx="3" fill="#000" fill-opacity="0.28" filter="url(#bl8)"/></g>
<g clip-path="url(#cl)"><rect x="466.9" y="132.2" width="19.0" height="2.5" rx="3" fill="#000" fill-opacity="0.30" filter="url(#bl8)"/></g>
<g clip-path="url(#cl)"><rect x="492.5" y="132.2" width="19.0" height="2.5" rx="3" fill="#000" fill-opacity="0.05" filter="url(#bl8)"/></g>
<g clip-path="url(#cl)"><rect x="518.5" y="132.2" width="19.0" height="2.5" rx="3" fill="#000" fill-opacity="0.06" filter="url(#bl8)"/></g>
<g clip-path="url(#cl)"><rect x="544.1" y="132.2" width="19.0" height="2.5" rx="3" fill="#000" fill-opacity="0.05" filter="url(#bl8)"/></g>
<g clip-path="url(#cl)"><rect x="570.3" y="132.2" width="19.0" height="2.5" rx="3" fill="#000" fill-opacity="0.05" filter="url(#bl8)"/></g>
<g clip-path="url(#cr)"><rect x="602.0" y="132.2" width="19.0" height="2.5" rx="3" fill="#000" fill-opacity="0.30" filter="url(#bl8)"/></g>
<g clip-path="url(#cr)"><rect x="629.0" y="132.2" width="19.0" height="2.5" rx="3" fill="#000" fill-opacity="0.05" filter="url(#bl8)"/></g>
<rect x="329.30" y="129.10" width="267.40" height="20.10" fill="none" stroke="#222" stroke-width="1.1"/>
<rect x="598.10" y="129.10" width="54.50" height="20.10" fill="none" stroke="#222" stroke-width="1.1"/>
<text x="322.7" y="144.3" font-size="12.5" text-anchor="end" font-weight="normal" font-style="normal" fill="#000" >ASC</text>
<rect x="329.30" y="152.50" width="267.40" height="21.00" fill="#f2f2f2" />
<rect x="598.10" y="152.50" width="54.50" height="21.00" fill="#f2f2f2" />
<g clip-path="url(#cl)"><g opacity="0.72" filter="url(#bl9)"><path d="M336.15,158.14 L337.53,158.51 L338.91,158.84 L340.29,159.12 L341.66,159.37 L343.04,159.58 L344.42,159.75 L345.80,159.87 L347.18,159.96 L348.56,160.01 L349.94,160.02 L351.31,159.98 L352.69,159.91 L354.07,159.79 L355.45,159.64 L355.45,163.66 L354.07,163.49 L352.69,163.33 L351.31,163.18 L349.94,163.04 L348.56,162.91 L347.18,162.79 L345.80,162.67 L344.42,162.57 L343.04,162.48 L341.66,162.40 L340.29,162.32 L338.91,162.26 L337.53,162.21 L336.15,162.16Z" fill="#000" stroke="#000" stroke-width="3" stroke-linejoin="round"/></g></g>
<g clip-path="url(#cl)"><g opacity="0.45" filter="url(#bl9)"><path d="M362.35,159.14 L363.73,159.51 L365.11,159.84 L366.49,160.12 L367.86,160.37 L369.24,160.58 L370.62,160.75 L372.00,160.87 L373.38,160.96 L374.76,161.01 L376.14,161.02 L377.51,160.98 L378.89,160.91 L380.27,160.79 L381.65,160.64 L381.65,164.66 L380.27,164.49 L378.89,164.33 L377.51,164.18 L376.14,164.04 L374.76,163.91 L373.38,163.79 L372.00,163.67 L370.62,163.57 L369.24,163.48 L367.86,163.40 L366.49,163.32 L365.11,163.26 L363.73,163.21 L362.35,163.16Z" fill="#000" stroke="#000" stroke-width="3" stroke-linejoin="round"/></g></g>
<g clip-path="url(#cl)"><g opacity="0.70" filter="url(#bl9)"><path d="M388.65,158.03 L390.03,158.37 L391.41,158.68 L392.79,158.95 L394.16,159.19 L395.54,159.39 L396.92,159.55 L398.30,159.68 L399.68,159.76 L401.06,159.82 L402.44,159.83 L403.81,159.81 L405.19,159.75 L406.57,159.66 L407.95,159.53 L407.95,162.97 L406.57,162.83 L405.19,162.69 L403.81,162.55 L402.44,162.42 L401.06,162.30 L399.68,162.19 L398.30,162.07 L396.92,161.97 L395.54,161.87 L394.16,161.78 L392.79,161.70 L391.41,161.62 L390.03,161.54 L388.65,161.47Z" fill="#000" stroke="#000" stroke-width="3" stroke-linejoin="round"/></g></g>
<g clip-path="url(#cl)"><g opacity="0.62" filter="url(#bl9)"><path d="M414.95,157.72 L416.33,158.07 L417.71,158.38 L419.09,158.65 L420.46,158.89 L421.84,159.09 L423.22,159.25 L424.60,159.38 L425.98,159.46 L427.36,159.52 L428.74,159.53 L430.11,159.51 L431.49,159.45 L432.87,159.36 L434.25,159.22 L434.25,162.67 L432.87,162.53 L431.49,162.39 L430.11,162.25 L428.74,162.12 L427.36,162.00 L425.98,161.89 L424.60,161.77 L423.22,161.67 L421.84,161.57 L420.46,161.48 L419.09,161.40 L417.71,161.32 L416.33,161.24 L414.95,161.17Z" fill="#000" stroke="#000" stroke-width="3" stroke-linejoin="round"/></g></g>
<g clip-path="url(#cl)"><g opacity="0.52" filter="url(#bl9)"><path d="M440.75,158.51 L442.13,158.84 L443.51,159.12 L444.89,159.38 L446.26,159.60 L447.64,159.79 L449.02,159.95 L450.40,160.07 L451.78,160.17 L453.16,160.22 L454.54,160.25 L455.91,160.24 L457.29,160.20 L458.67,160.12 L460.05,160.01 L460.05,162.89 L458.67,162.76 L457.29,162.64 L455.91,162.52 L454.54,162.41 L453.16,162.29 L451.78,162.18 L450.40,162.07 L449.02,161.97 L447.64,161.87 L446.26,161.77 L444.89,161.67 L443.51,161.57 L442.13,161.48 L440.75,161.39Z" fill="#000" stroke="#000" stroke-width="3" stroke-linejoin="round"/></g></g>
<g clip-path="url(#cl)"><g opacity="0.60" filter="url(#bl9)"><path d="M466.75,159.01 L468.13,159.34 L469.51,159.62 L470.89,159.88 L472.26,160.10 L473.64,160.29 L475.02,160.45 L476.40,160.57 L477.78,160.67 L479.16,160.72 L480.54,160.75 L481.91,160.74 L483.29,160.70 L484.67,160.62 L486.05,160.51 L486.05,163.39 L484.67,163.26 L483.29,163.14 L481.91,163.02 L480.54,162.91 L479.16,162.79 L477.78,162.68 L476.40,162.57 L475.02,162.47 L473.64,162.37 L472.26,162.27 L470.89,162.17 L469.51,162.07 L468.13,161.98 L466.75,161.89Z" fill="#000" stroke="#000" stroke-width="3" stroke-linejoin="round"/></g></g>
<g clip-path="url(#cl)"><g opacity="0.66" filter="url(#bl9)"><path d="M492.35,159.01 L493.73,159.34 L495.11,159.62 L496.49,159.88 L497.86,160.10 L499.24,160.29 L500.62,160.45 L502.00,160.57 L503.38,160.67 L504.76,160.72 L506.14,160.75 L507.51,160.74 L508.89,160.70 L510.27,160.62 L511.65,160.51 L511.65,163.39 L510.27,163.26 L508.89,163.14 L507.51,163.02 L506.14,162.91 L504.76,162.79 L503.38,162.68 L502.00,162.57 L500.62,162.47 L499.24,162.37 L497.86,162.27 L496.49,162.17 L495.11,162.07 L493.73,161.98 L492.35,161.89Z" fill="#000" stroke="#000" stroke-width="3" stroke-linejoin="round"/></g></g>
<g clip-path="url(#cl)"><g opacity="0.85" filter="url(#bl9)"><path d="M518.35,158.15 L519.73,158.54 L521.11,158.89 L522.49,159.20 L523.86,159.46 L525.24,159.67 L526.62,159.85 L528.00,159.97 L529.38,160.06 L530.76,160.10 L532.14,160.10 L533.51,160.05 L534.89,159.96 L536.27,159.83 L537.65,159.65 L537.65,164.25 L536.27,164.06 L534.89,163.88 L533.51,163.71 L532.14,163.56 L530.76,163.42 L529.38,163.29 L528.00,163.17 L526.62,163.07 L525.24,162.99 L523.86,162.91 L522.49,162.85 L521.11,162.81 L519.73,162.77 L518.35,162.75Z" fill="#000" stroke="#000" stroke-width="3" stroke-linejoin="round"/></g></g>
<g clip-path="url(#cl)"><g opacity="0.85" filter="url(#bl9)"><path d="M543.95,157.16 L545.33,157.58 L546.71,157.95 L548.09,158.27 L549.46,158.54 L550.84,158.77 L552.22,158.94 L553.60,159.07 L554.98,159.16 L556.36,159.19 L557.74,159.18 L559.11,159.12 L560.49,159.02 L561.87,158.86 L563.25,158.66 L563.25,163.84 L561.87,163.62 L560.49,163.42 L559.11,163.24 L557.74,163.07 L556.36,162.92 L554.98,162.79 L553.60,162.68 L552.22,162.58 L550.84,162.49 L549.46,162.43 L548.09,162.38 L546.71,162.35 L545.33,162.34 L543.95,162.34Z" fill="#000" stroke="#000" stroke-width="3" stroke-linejoin="round"/></g></g>
<g clip-path="url(#cl)"><g opacity="0.72" filter="url(#bl9)"><path d="M570.15,158.44 L571.53,158.81 L572.91,159.14 L574.29,159.42 L575.66,159.67 L577.04,159.88 L578.42,160.05 L579.80,160.17 L581.18,160.26 L582.56,160.31 L583.94,160.32 L585.31,160.28 L586.69,160.21 L588.07,160.09 L589.45,159.94 L589.45,163.96 L588.07,163.79 L586.69,163.63 L585.31,163.48 L583.94,163.34 L582.56,163.21 L581.18,163.09 L579.80,162.97 L578.42,162.87 L577.04,162.78 L575.66,162.70 L574.29,162.62 L572.91,162.56 L571.53,162.51 L570.15,162.46Z" fill="#000" stroke="#000" stroke-width="3" stroke-linejoin="round"/></g></g>
<g clip-path="url(#cr)"><g opacity="0.55" filter="url(#bl9)"><path d="M601.85,158.86 L603.23,159.28 L604.61,159.65 L605.99,159.97 L607.36,160.24 L608.74,160.47 L610.12,160.64 L611.50,160.77 L612.88,160.86 L614.26,160.89 L615.64,160.88 L617.01,160.82 L618.39,160.72 L619.77,160.56 L621.15,160.36 L621.15,165.54 L619.77,165.32 L618.39,165.12 L617.01,164.94 L615.64,164.77 L614.26,164.62 L612.88,164.49 L611.50,164.38 L610.12,164.28 L608.74,164.19 L607.36,164.13 L605.99,164.08 L604.61,164.05 L603.23,164.04 L601.85,164.04Z" fill="#000" stroke="#000" stroke-width="3" stroke-linejoin="round"/></g></g>
<g clip-path="url(#cr)"><g opacity="0.60" filter="url(#bl9)"><path d="M628.85,158.86 L630.23,159.28 L631.61,159.65 L632.99,159.97 L634.36,160.24 L635.74,160.47 L637.12,160.64 L638.50,160.77 L639.88,160.86 L641.26,160.89 L642.64,160.88 L644.01,160.82 L645.39,160.72 L646.77,160.56 L648.15,160.36 L648.15,165.54 L646.77,165.32 L645.39,165.12 L644.01,164.94 L642.64,164.77 L641.26,164.62 L639.88,164.49 L638.50,164.38 L637.12,164.28 L635.74,164.19 L634.36,164.13 L632.99,164.08 L631.61,164.05 L630.23,164.04 L628.85,164.04Z" fill="#000" stroke="#000" stroke-width="3" stroke-linejoin="round"/></g></g>
<rect x="329.30" y="152.50" width="267.40" height="21.00" fill="none" stroke="#222" stroke-width="1.1"/>
<rect x="598.10" y="152.50" width="54.50" height="21.00" fill="none" stroke="#222" stroke-width="1.1"/>
<text x="322.7" y="168.4" font-size="12.5" text-anchor="end" font-weight="normal" font-style="normal" fill="#000" >Pro-Casp1</text>
<rect x="329.30" y="175.10" width="267.40" height="20.60" fill="#f2f2f2" />
<rect x="598.10" y="175.10" width="54.50" height="20.60" fill="#f2f2f2" />
<g clip-path="url(#cl)"><g opacity="0.95" filter="url(#bl9)"><path d="M336.15,179.79 L337.53,180.25 L338.91,180.66 L340.29,181.01 L341.66,181.31 L343.04,181.55 L344.42,181.74 L345.80,181.88 L347.18,181.95 L348.56,181.98 L349.94,181.95 L351.31,181.87 L352.69,181.73 L354.07,181.54 L355.45,181.29 L355.45,187.61 L354.07,187.35 L352.69,187.11 L351.31,186.90 L349.94,186.70 L348.56,186.54 L347.18,186.39 L345.80,186.27 L344.42,186.18 L343.04,186.11 L341.66,186.06 L340.29,186.04 L338.91,186.04 L337.53,186.06 L336.15,186.11Z" fill="#000" stroke="#000" stroke-width="3" stroke-linejoin="round"/></g></g>
<g clip-path="url(#cl)"><g opacity="0.80" filter="url(#bl9)"><path d="M362.35,180.79 L363.73,181.25 L365.11,181.66 L366.49,182.01 L367.86,182.31 L369.24,182.55 L370.62,182.74 L372.00,182.88 L373.38,182.95 L374.76,182.98 L376.14,182.95 L377.51,182.87 L378.89,182.73 L380.27,182.54 L381.65,182.29 L381.65,188.61 L380.27,188.35 L378.89,188.11 L377.51,187.90 L376.14,187.70 L374.76,187.54 L373.38,187.39 L372.00,187.27 L370.62,187.18 L369.24,187.11 L367.86,187.06 L366.49,187.04 L365.11,187.04 L363.73,187.06 L362.35,187.11Z" fill="#000" stroke="#000" stroke-width="3" stroke-linejoin="round"/></g></g>
<g clip-path="url(#cl)"><g opacity="0.92" filter="url(#bl9)"><path d="M388.65,180.65 L390.03,181.04 L391.41,181.39 L392.79,181.70 L394.16,181.96 L395.54,182.17 L396.92,182.35 L398.30,182.47 L399.68,182.56 L401.06,182.60 L402.44,182.60 L403.81,182.55 L405.19,182.46 L406.57,182.33 L407.95,182.15 L407.95,186.75 L406.57,186.56 L405.19,186.38 L403.81,186.21 L402.44,186.06 L401.06,185.92 L399.68,185.79 L398.30,185.67 L396.92,185.57 L395.54,185.49 L394.16,185.41 L392.79,185.35 L391.41,185.31 L390.03,185.27 L388.65,185.25Z" fill="#000" stroke="#000" stroke-width="3" stroke-linejoin="round"/></g></g>
<g clip-path="url(#cl)"><g opacity="0.88" filter="url(#bl9)"><path d="M414.95,180.15 L416.33,180.54 L417.71,180.89 L419.09,181.20 L420.46,181.46 L421.84,181.67 L423.22,181.85 L424.60,181.97 L425.98,182.06 L427.36,182.10 L428.74,182.10 L430.11,182.05 L431.49,181.96 L432.87,181.83 L434.25,181.65 L434.25,186.25 L432.87,186.06 L431.49,185.88 L430.11,185.71 L428.74,185.56 L427.36,185.42 L425.98,185.29 L424.60,185.17 L423.22,185.07 L421.84,184.99 L420.46,184.91 L419.09,184.85 L417.71,184.81 L416.33,184.77 L414.95,184.75Z" fill="#000" stroke="#000" stroke-width="3" stroke-linejoin="round"/></g></g>
<g clip-path="url(#cl)"><g opacity="0.80" filter="url(#bl9)"><path d="M440.75,181.44 L442.13,181.81 L443.51,182.14 L444.89,182.42 L446.26,182.67 L447.64,182.88 L449.02,183.05 L450.40,183.17 L451.78,183.26 L453.16,183.31 L454.54,183.32 L455.91,183.28 L457.29,183.21 L458.67,183.09 L460.05,182.94 L460.05,186.96 L458.67,186.79 L457.29,186.63 L455.91,186.48 L454.54,186.34 L453.16,186.21 L451.78,186.09 L450.40,185.97 L449.02,185.87 L447.64,185.78 L446.26,185.70 L444.89,185.62 L443.51,185.56 L442.13,185.51 L440.75,185.46Z" fill="#000" stroke="#000" stroke-width="3" stroke-linejoin="round"/></g></g>
<g clip-path="url(#cl)"><g opacity="0.82" filter="url(#bl9)"><path d="M466.75,181.44 L468.13,181.81 L469.51,182.14 L470.89,182.42 L472.26,182.67 L473.64,182.88 L475.02,183.05 L476.40,183.17 L477.78,183.26 L479.16,183.31 L480.54,183.32 L481.91,183.28 L483.29,183.21 L484.67,183.09 L486.05,182.94 L486.05,186.96 L484.67,186.79 L483.29,186.63 L481.91,186.48 L480.54,186.34 L479.16,186.21 L477.78,186.09 L476.40,185.97 L475.02,185.87 L473.64,185.78 L472.26,185.70 L470.89,185.62 L469.51,185.56 L468.13,185.51 L466.75,185.46Z" fill="#000" stroke="#000" stroke-width="3" stroke-linejoin="round"/></g></g>
<g clip-path="url(#cl)"><g opacity="0.80" filter="url(#bl9)"><path d="M492.35,181.44 L493.73,181.81 L495.11,182.14 L496.49,182.42 L497.86,182.67 L499.24,182.88 L500.62,183.05 L502.00,183.17 L503.38,183.26 L504.76,183.31 L506.14,183.32 L507.51,183.28 L508.89,183.21 L510.27,183.09 L511.65,182.94 L511.65,186.96 L510.27,186.79 L508.89,186.63 L507.51,186.48 L506.14,186.34 L504.76,186.21 L503.38,186.09 L502.00,185.97 L500.62,185.87 L499.24,185.78 L497.86,185.70 L496.49,185.62 L495.11,185.56 L493.73,185.51 L492.35,185.46Z" fill="#000" stroke="#000" stroke-width="3" stroke-linejoin="round"/></g></g>
<g clip-path="url(#cl)"><g opacity="0.90" filter="url(#bl9)"><path d="M518.35,181.07 L519.73,181.51 L521.11,181.90 L522.49,182.24 L523.86,182.52 L525.24,182.76 L526.62,182.94 L528.00,183.07 L529.38,183.16 L530.76,183.19 L532.14,183.17 L533.51,183.10 L534.89,182.97 L536.27,182.80 L537.65,182.57 L537.65,188.32 L536.27,188.09 L534.89,187.87 L533.51,187.67 L532.14,187.49 L530.76,187.33 L529.38,187.19 L528.00,187.07 L526.62,186.98 L525.24,186.90 L523.86,186.85 L522.49,186.81 L521.11,186.79 L519.73,186.80 L518.35,186.82Z" fill="#000" stroke="#000" stroke-width="3" stroke-linejoin="round"/></g></g>
<g clip-path="url(#cl)"><g opacity="0.92" filter="url(#bl9)"><path d="M543.95,180.29 L545.33,180.75 L546.71,181.16 L548.09,181.51 L549.46,181.81 L550.84,182.05 L552.22,182.24 L553.60,182.38 L554.98,182.45 L556.36,182.48 L557.74,182.45 L559.11,182.37 L560.49,182.23 L561.87,182.04 L563.25,181.79 L563.25,188.11 L561.87,187.85 L560.49,187.61 L559.11,187.40 L557.74,187.20 L556.36,187.04 L554.98,186.89 L553.60,186.77 L552.22,186.68 L550.84,186.61 L549.46,186.56 L548.09,186.54 L546.71,186.54 L545.33,186.56 L543.95,186.61Z" fill="#000" stroke="#000" stroke-width="3" stroke-linejoin="round"/></g></g>
<g clip-path="url(#cl)"><g opacity="0.90" filter="url(#bl9)"><path d="M570.15,181.07 L571.53,181.51 L572.91,181.90 L574.29,182.24 L575.66,182.52 L577.04,182.76 L578.42,182.94 L579.80,183.07 L581.18,183.16 L582.56,183.19 L583.94,183.17 L585.31,183.10 L586.69,182.97 L588.07,182.80 L589.45,182.57 L589.45,188.32 L588.07,188.09 L586.69,187.87 L585.31,187.67 L583.94,187.49 L582.56,187.33 L581.18,187.19 L579.80,187.07 L578.42,186.98 L577.04,186.90 L575.66,186.85 L574.29,186.81 L572.91,186.79 L571.53,186.80 L570.15,186.82Z" fill="#000" stroke="#000" stroke-width="3" stroke-linejoin="round"/></g></g>
<g clip-path="url(#cr)"><g opacity="0.72" filter="url(#bl9)"><path d="M601.85,181.07 L603.23,181.51 L604.61,181.90 L605.99,182.24 L607.36,182.52 L608.74,182.76 L610.12,182.94 L611.50,183.07 L612.88,183.16 L614.26,183.19 L615.64,183.17 L617.01,183.10 L618.39,182.97 L619.77,182.80 L621.15,182.57 L621.15,188.32 L619.77,188.09 L618.39,187.87 L617.01,187.67 L615.64,187.49 L614.26,187.33 L612.88,187.19 L611.50,187.07 L610.12,186.98 L608.74,186.90 L607.36,186.85 L605.99,186.81 L604.61,186.79 L603.23,186.80 L601.85,186.82Z" fill="#000" stroke="#000" stroke-width="3" stroke-linejoin="round"/></g></g>
<g clip-path="url(#cr)"><g opacity="0.80" filter="url(#bl9)"><path d="M628.85,180.57 L630.23,181.01 L631.61,181.40 L632.99,181.74 L634.36,182.02 L635.74,182.26 L637.12,182.44 L638.50,182.57 L639.88,182.66 L641.26,182.69 L642.64,182.67 L644.01,182.60 L645.39,182.47 L646.77,182.30 L648.15,182.07 L648.15,187.82 L646.77,187.59 L645.39,187.37 L644.01,187.17 L642.64,186.99 L641.26,186.83 L639.88,186.69 L638.50,186.57 L637.12,186.48 L635.74,186.40 L634.36,186.35 L632.99,186.31 L631.61,186.29 L630.23,186.30 L628.85,186.32Z" fill="#000" stroke="#000" stroke-width="3" stroke-linejoin="round"/></g></g>
<rect x="329.30" y="175.10" width="267.40" height="20.60" fill="none" stroke="#222" stroke-width="1.1"/>
<rect x="598.10" y="175.10" width="54.50" height="20.60" fill="none" stroke="#222" stroke-width="1.1"/>
<text x="322.7" y="189.6" font-size="12.5" text-anchor="end" font-weight="normal" font-style="normal" fill="#000" >β-actin</text>
<line x1="652.60" y1="69.90" x2="656.00" y2="69.90" stroke="#000" stroke-width="1" />
<text x="660.7" y="73.7" font-size="11.8" text-anchor="start" font-weight="normal" font-style="normal" fill="#000" >45</text>
<line x1="652.60" y1="117.20" x2="656.00" y2="117.20" stroke="#000" stroke-width="1" />
<text x="660.7" y="122.4" font-size="11.8" text-anchor="start" font-weight="normal" font-style="normal" fill="#000" >110</text>
<line x1="652.60" y1="139.60" x2="656.00" y2="139.60" stroke="#000" stroke-width="1" />
<text x="660.7" y="144.6" font-size="11.8" text-anchor="start" font-weight="normal" font-style="normal" fill="#000" >22</text>
<line x1="652.60" y1="162.80" x2="656.00" y2="162.80" stroke="#000" stroke-width="1" />
<text x="660.7" y="167.0" font-size="11.8" text-anchor="start" font-weight="normal" font-style="normal" fill="#000" >45</text>
<line x1="652.60" y1="185.20" x2="656.00" y2="185.20" stroke="#000" stroke-width="1" />
<text x="660.7" y="189.8" font-size="11.8" text-anchor="start" font-weight="normal" font-style="normal" fill="#000" >42</text>
<line x1="652.60" y1="94.40" x2="656.00" y2="94.40" stroke="#000" stroke-width="1" />
<text x="660.7" y="92.3" font-size="11.8" text-anchor="start" font-weight="normal" font-style="normal" fill="#000" >135/</text>
<text x="660.7" y="106.8" font-size="11.8" text-anchor="start" font-weight="normal" font-style="normal" fill="#000" >155</text>
<text transform="translate(0.00,246.40) scale(0.94,1)" font-size="23.8" font-weight="bold">C</text>
<line x1="65.60" y1="265.50" x2="65.60" y2="408.50" stroke="#000" stroke-width="1.1" />
<line x1="65.10" y1="408.00" x2="207.20" y2="408.00" stroke="#000" stroke-width="1.1" />
<line x1="61.10" y1="408.00" x2="65.60" y2="408.00" stroke="#000" stroke-width="1.1" />
<text x="60.1" y="412.4" font-size="12.4" text-anchor="end" font-weight="normal" font-style="normal" fill="#000" >0</text>
<line x1="61.10" y1="372.50" x2="65.60" y2="372.50" stroke="#000" stroke-width="1.1" />
<text x="60.1" y="376.9" font-size="12.4" text-anchor="end" font-weight="normal" font-style="normal" fill="#000" >25</text>
<line x1="61.10" y1="337.00" x2="65.60" y2="337.00" stroke="#000" stroke-width="1.1" />
<text x="60.1" y="341.4" font-size="12.4" text-anchor="end" font-weight="normal" font-style="normal" fill="#000" >50</text>
<line x1="61.10" y1="301.50" x2="65.60" y2="301.50" stroke="#000" stroke-width="1.1" />
<text x="60.1" y="305.9" font-size="12.4" text-anchor="end" font-weight="normal" font-style="normal" fill="#000" >75</text>
<line x1="61.10" y1="266.00" x2="65.60" y2="266.00" stroke="#000" stroke-width="1.1" />
<text x="60.1" y="270.4" font-size="12.4" text-anchor="end" font-weight="normal" font-style="normal" fill="#000" >100</text>
<line x1="65.60" y1="408.00" x2="65.60" y2="412.00" stroke="#000" stroke-width="1.1" />
<text x="65.6" y="429.2" font-size="12.4" text-anchor="middle" font-weight="normal" font-style="normal" fill="#000" >0</text>
<line x1="112.80" y1="408.00" x2="112.80" y2="412.00" stroke="#000" stroke-width="1.1" />
<text x="112.8" y="429.2" font-size="12.4" text-anchor="middle" font-weight="normal" font-style="normal" fill="#000" >2</text>
<line x1="160.00" y1="408.00" x2="160.00" y2="412.00" stroke="#000" stroke-width="1.1" />
<text x="160.0" y="429.2" font-size="12.4" text-anchor="middle" font-weight="normal" font-style="normal" fill="#000" >4</text>
<line x1="207.20" y1="408.00" x2="207.20" y2="412.00" stroke="#000" stroke-width="1.1" />
<text x="207.2" y="429.2" font-size="12.4" text-anchor="middle" font-weight="normal" font-style="normal" fill="#000" >6</text>
<text x="136.6" y="451.5" font-size="12.6" text-anchor="middle" font-weight="normal" font-style="normal" fill="#000" >Time (months)</text>
<text transform="translate(28.8,337.6) rotate(-90)" font-size="12.8" text-anchor="middle">Progression-free survival</text>
<text x="136.4" y="262.8" font-size="12.9" text-anchor="middle" font-weight="bold" font-style="normal" fill="#000" >Cohort 1</text>
<path d="M65.66,266.31 H74.03 V266.31 H74.71 V269.71 H76.29 V276.50 H86.02 V276.50 H86.70 V283.97 H92.81 V283.97 H93.94 V287.81 H96.21 V292.34 H104.13 V299.13 H106.39 V303.65 H108.65 V309.31 H109.79 V314.29 H119.97 V314.29 H121.10 V317.23 H129.02 V317.23 H130.15 V321.76 H133.55 V322.89 H134.68 V327.41 H138.07 V329.68 H139.20 V333.07 H148.26 V333.07 H149.39 V336.47 H157.31 V336.47 H158.44 V344.39 H159.57 V351.18 H165.23 V352.31 H166.36 V355.70 H173.15 V355.70 H174.28 V359.55 H178.81 V361.36 H179.94 V363.17 H191.25 V363.17 H193.51 V365.88 H195.78 V367.70 H198.04 V369.28 H204.83 V371.54 H207.09 V373.13" fill="none" stroke="#aa00be" stroke-width="2.1"/>
<path d="M65.66,266.31 H72.45 V266.31 H73.58 V268.58 H74.71 V271.97 H75.84 V276.50 H91.68 V276.50 H92.81 V278.76 H96.21 V279.89 H99.60 V283.29 H101.86 V288.94 H104.13 V295.73 H106.39 V300.26 H108.65 V302.52 H113.18 V303.65 H114.31 V308.18 H116.57 V310.44 H129.02 V310.44 H130.15 V314.97 H132.41 V320.63 H145.99 V320.63 H147.12 V322.89 H149.39 V325.15 H151.65 V328.55 H153.91 V330.81 H179.94 V331.94 H182.20 V335.33 H184.46 V339.86 H193.51 V339.86 H195.78 V342.80 H198.04 V345.07 H205.96 V345.07 H207.09 V343.26" fill="none" stroke="#5c0a55" stroke-width="2.1"/>
<circle cx="207.09" cy="343.26" r="2.0" fill="#5c0a55"/>
<circle cx="207.09" cy="373.13" r="2.0" fill="#aa00be"/>
<line x1="72.40" y1="382.80" x2="90.40" y2="382.80" stroke="#aa00be" stroke-width="1.9" />
<rect x="80.20" y="380.80" width="2.40" height="2.40" fill="#aa00be" />
<text x="101.9" y="387.8" font-size="12.5" font-style="italic">AIM2<tspan dy="-5.5" font-size="9.8">Low</tspan></text>
<line x1="72.40" y1="398.70" x2="90.40" y2="398.70" stroke="#5c0a55" stroke-width="1.9" />
<rect x="80.20" y="396.70" width="2.40" height="2.40" fill="#5c0a55" />
<text x="101.9" y="403.7" font-size="12.5" font-style="italic">AIM2<tspan dy="-5.5" font-size="9.8">High</tspan></text>
<line x1="158.00" y1="374.50" x2="158.00" y2="408.00" stroke="#555" stroke-width="1.3" />
<text x="162.7" y="390.0" font-size="9.6" text-anchor="start" font-weight="normal" font-style="normal" fill="#000" >p=0.09</text>
<text x="162.7" y="401.6" font-size="9.6" text-anchor="start" font-weight="normal" font-style="normal" fill="#000" >HR=0.6 [0.4, 1.1]</text>
<line x1="289.50" y1="265.50" x2="289.50" y2="408.50" stroke="#000" stroke-width="1.1" />
<line x1="289.00" y1="408.00" x2="431.10" y2="408.00" stroke="#000" stroke-width="1.1" />
<line x1="285.00" y1="408.00" x2="289.50" y2="408.00" stroke="#000" stroke-width="1.1" />
<text x="284.0" y="412.4" font-size="12.4" text-anchor="end" font-weight="normal" font-style="normal" fill="#000" >0</text>
<line x1="285.00" y1="372.50" x2="289.50" y2="372.50" stroke="#000" stroke-width="1.1" />
<text x="284.0" y="376.9" font-size="12.4" text-anchor="end" font-weight="normal" font-style="normal" fill="#000" >25</text>
<line x1="285.00" y1="337.00" x2="289.50" y2="337.00" stroke="#000" stroke-width="1.1" />
<text x="284.0" y="341.4" font-size="12.4" text-anchor="end" font-weight="normal" font-style="normal" fill="#000" >50</text>
<line x1="285.00" y1="301.50" x2="289.50" y2="301.50" stroke="#000" stroke-width="1.1" />
<text x="284.0" y="305.9" font-size="12.4" text-anchor="end" font-weight="normal" font-style="normal" fill="#000" >75</text>
<line x1="285.00" y1="266.00" x2="289.50" y2="266.00" stroke="#000" stroke-width="1.1" />
<text x="284.0" y="270.4" font-size="12.4" text-anchor="end" font-weight="normal" font-style="normal" fill="#000" >100</text>
<line x1="289.50" y1="408.00" x2="289.50" y2="412.00" stroke="#000" stroke-width="1.1" />
<text x="289.5" y="429.2" font-size="12.4" text-anchor="middle" font-weight="normal" font-style="normal" fill="#000" >0</text>
<line x1="336.70" y1="408.00" x2="336.70" y2="412.00" stroke="#000" stroke-width="1.1" />
<text x="336.7" y="429.2" font-size="12.4" text-anchor="middle" font-weight="normal" font-style="normal" fill="#000" >2</text>
<line x1="383.90" y1="408.00" x2="383.90" y2="412.00" stroke="#000" stroke-width="1.1" />
<text x="383.9" y="429.2" font-size="12.4" text-anchor="middle" font-weight="normal" font-style="normal" fill="#000" >4</text>
<line x1="431.10" y1="408.00" x2="431.10" y2="412.00" stroke="#000" stroke-width="1.1" />
<text x="431.1" y="429.2" font-size="12.4" text-anchor="middle" font-weight="normal" font-style="normal" fill="#000" >6</text>
<text x="360.5" y="451.5" font-size="12.6" text-anchor="middle" font-weight="normal" font-style="normal" fill="#000" >Time (months)</text>
<text transform="translate(252.7,337.6) rotate(-90)" font-size="12.8" text-anchor="middle">Progression-free survival</text>
<text x="360.5" y="262.8" font-size="12.9" text-anchor="middle" font-weight="bold" font-style="normal" fill="#000" >Cohort 2</text>
<path d="M289.53,264.50 H290.66 V267.45 H291.79 V269.03 H294.05 V270.84 H295.18 V274.24 H297.45 V276.50 H299.71 V277.63 H301.97 V279.89 H309.89 V279.89 H311.02 V284.42 H313.29 V286.68 H315.55 V288.94 H318.94 V293.47 H321.21 V296.86 H323.47 V302.52 H325.73 V307.05 H328.00 V311.57 H330.26 V317.23 H332.52 V325.15 H333.65 V329.68 H340.44 V329.68 H341.57 V335.33 H343.84 V339.86 H350.63 V339.86 H352.89 V345.52 H355.15 V354.57 H356.28 V363.62 H364.20 V364.75 H366.47 V367.02 H377.78 V367.02 H378.91 V370.41 H390.23 V371.54 H391.36 V373.81 H404.94 V373.81 H407.20 V377.20 H410.59 V378.33 H412.86 V381.73 H416.25 V383.99 H430.96 V383.99 H432.09 V382.86" fill="none" stroke="#aa00be" stroke-width="2.1"/>
<path d="M289.53,264.50 H291.79 V267.45 H295.18 V271.97 H297.45 V276.50 H300.84 V279.89 H301.97 V282.16 H320.08 V282.16 H322.34 V284.42 H326.86 V286.68 H329.13 V291.21 H333.65 V294.60 H334.79 V299.13 H338.18 V302.52 H344.97 V303.65 H346.10 V308.18 H349.49 V309.31 H350.63 V314.97 H352.89 V319.49 H355.15 V322.89 H373.26 V322.89 H374.39 V328.55 H386.83 V328.55 H387.96 V333.07 H391.36 V335.33 H393.62 V340.99 H395.88 V345.52 H402.67 V345.52 H404.94 V350.04 H418.51 V350.04 H420.78 V354.57 H430.96 V354.57 H432.09 V353.44" fill="none" stroke="#5c0a55" stroke-width="2.1"/>
<circle cx="432.09" cy="353.44" r="2.0" fill="#5c0a55"/>
<circle cx="432.09" cy="382.86" r="2.0" fill="#aa00be"/>
<line x1="292.90" y1="382.80" x2="310.90" y2="382.80" stroke="#aa00be" stroke-width="1.9" />
<rect x="300.70" y="380.80" width="2.40" height="2.40" fill="#aa00be" />
<text x="322.4" y="387.8" font-size="12.5" font-style="italic">AIM2<tspan dy="-5.5" font-size="9.8">Low</tspan></text>
<line x1="292.90" y1="398.70" x2="310.90" y2="398.70" stroke="#5c0a55" stroke-width="1.9" />
<rect x="300.70" y="396.70" width="2.40" height="2.40" fill="#5c0a55" />
<text x="322.4" y="403.7" font-size="12.5" font-style="italic">AIM2<tspan dy="-5.5" font-size="9.8">High</tspan></text>
<line x1="380.30" y1="374.50" x2="380.30" y2="408.00" stroke="#555" stroke-width="1.3" />
<text x="385.0" y="390.0" font-size="9.6" text-anchor="start" font-weight="normal" font-style="normal" fill="#000" >p=0.04</text>
<text x="385.0" y="401.6" font-size="9.6" text-anchor="start" font-weight="normal" font-style="normal" fill="#000" >HR=0.5 [0.3, 0.9]</text>
<line x1="513.20" y1="265.50" x2="513.20" y2="408.50" stroke="#000" stroke-width="1.1" />
<line x1="512.70" y1="408.00" x2="654.80" y2="408.00" stroke="#000" stroke-width="1.1" />
<line x1="508.70" y1="408.00" x2="513.20" y2="408.00" stroke="#000" stroke-width="1.1" />
<text x="507.7" y="412.4" font-size="12.4" text-anchor="end" font-weight="normal" font-style="normal" fill="#000" >0</text>
<line x1="508.70" y1="372.50" x2="513.20" y2="372.50" stroke="#000" stroke-width="1.1" />
<text x="507.7" y="376.9" font-size="12.4" text-anchor="end" font-weight="normal" font-style="normal" fill="#000" >25</text>
<line x1="508.70" y1="337.00" x2="513.20" y2="337.00" stroke="#000" stroke-width="1.1" />
<text x="507.7" y="341.4" font-size="12.4" text-anchor="end" font-weight="normal" font-style="normal" fill="#000" >50</text>
<line x1="508.70" y1="301.50" x2="513.20" y2="301.50" stroke="#000" stroke-width="1.1" />
<text x="507.7" y="305.9" font-size="12.4" text-anchor="end" font-weight="normal" font-style="normal" fill="#000" >75</text>
<line x1="508.70" y1="266.00" x2="513.20" y2="266.00" stroke="#000" stroke-width="1.1" />
<text x="507.7" y="270.4" font-size="12.4" text-anchor="end" font-weight="normal" font-style="normal" fill="#000" >100</text>
<line x1="513.20" y1="408.00" x2="513.20" y2="412.00" stroke="#000" stroke-width="1.1" />
<text x="513.2" y="429.2" font-size="12.4" text-anchor="middle" font-weight="normal" font-style="normal" fill="#000" >0</text>
<line x1="560.40" y1="408.00" x2="560.40" y2="412.00" stroke="#000" stroke-width="1.1" />
<text x="560.4" y="429.2" font-size="12.4" text-anchor="middle" font-weight="normal" font-style="normal" fill="#000" >20</text>
<line x1="607.60" y1="408.00" x2="607.60" y2="412.00" stroke="#000" stroke-width="1.1" />
<text x="607.6" y="429.2" font-size="12.4" text-anchor="middle" font-weight="normal" font-style="normal" fill="#000" >40</text>
<line x1="654.80" y1="408.00" x2="654.80" y2="412.00" stroke="#000" stroke-width="1.1" />
<text x="654.8" y="429.2" font-size="12.4" text-anchor="middle" font-weight="normal" font-style="normal" fill="#000" >60</text>
<text x="584.2" y="451.5" font-size="12.6" text-anchor="middle" font-weight="normal" font-style="normal" fill="#000" >Time (months)</text>
<text transform="translate(476.4,337.6) rotate(-90)" font-size="12.8" text-anchor="middle">Progression-free survival</text>
<text x="584.5" y="262.8" font-size="12.6" text-anchor="middle" font-weight="bold" font-style="normal" fill="#000" >TCGA LUAD cohort</text>
<path d="M512.98,264.50 H515.12 V265.88 H518.11 V267.81 H520.81 V269.32 H522.26 V270.05 H523.65 V270.75 H525.14 V272.14 H527.54 V274.69 H529.16 V277.13 H532.09 V285.08 H534.89 V289.60 H538.73 V292.52 H542.26 V296.05 H543.94 V298.30 H546.04 V301.81 H547.81 V304.76 H550.77 V309.69 H553.50 V313.96 H554.95 V314.68 H558.02 V316.22 H560.14 V317.28 H562.62 V318.67 H565.98 V322.03 H567.92 V323.43 H570.58 V325.20 H573.78 V329.23 H577.63 V332.95 H580.01 V334.84 H581.71 V336.19 H583.11 V336.66 H586.40 V337.68 H589.97 V338.56 H593.08 V339.09 H595.89 V339.57 H599.37 V341.53 H601.91 V343.08 H603.36 V343.98 H606.35 V345.84 H609.78 V347.71 H612.09 V348.80 H613.45 V348.80 H615.18 V348.80 H616.64 V348.80 H618.27 V348.80 H620.59 V348.80 H622.10 V348.80 H624.83 V350.93 H628.26 V357.48 H630.28 V357.64 H632.51 V357.81 H636.30 V360.79 H638.06 V361.88 H639.97 V361.99 H642.80 V362.16 H644.11 V362.24 H646.37 V362.38 H650.15 V362.80 H652.79 V365.94 H655.41 V365.21 M514.05,262.70 V265.90 M516.62,264.08 V267.28 M519.46,266.01 V269.21 M522.96,268.25 V271.45 M524.40,268.95 V272.15 M528.35,272.89 V276.09 M533.49,283.28 V286.48 M536.81,287.80 V291.00 M540.50,290.72 V293.92 M543.10,294.25 V297.45 M549.29,302.96 V306.16 M552.13,307.89 V311.09 M554.22,312.16 V315.36 M556.49,312.88 V316.08 M561.38,315.48 V318.68 M572.18,323.40 V326.60 M575.70,327.43 V330.63 M580.86,333.04 V336.24 M588.19,335.88 V339.08 M594.49,337.29 V340.49 M608.06,344.04 V347.24 M612.77,347.00 V350.20 M614.31,347.00 V350.20 M617.45,347.00 V350.20 M621.34,347.00 V350.20 M629.27,355.68 V358.88 M634.41,356.01 V359.21 M637.18,358.99 V362.19 M639.01,360.08 V363.28 M641.38,360.19 V363.39 M643.45,360.36 V363.56 M654.10,364.14 V367.34" fill="none" stroke="#5c0a55" stroke-width="2.3"/>
<path d="M512.98,264.50 H514.75 V264.80 H516.84 V265.15 H519.54 V266.43 H520.77 V267.04 H522.59 V268.21 H526.18 V270.92 H529.39 V274.13 H532.12 V278.61 H534.85 V281.85 H537.30 V284.05 H540.11 V286.16 H543.13 V288.42 H545.06 V289.86 H548.33 V294.07 H551.26 V298.81 H554.17 V305.37 H556.32 V308.43 H558.59 V309.54 H561.90 V311.07 H563.42 V312.39 H566.94 V314.47 H569.65 V315.71 H572.06 V318.05 H574.11 V320.14 H576.71 V322.17 H579.54 V323.54 H582.80 V324.39 H585.61 V326.88 H588.88 V328.79 H592.25 V329.67 H595.16 V331.15 H598.36 V333.07 H600.24 V334.27 H603.49 V335.90 H604.90 V336.30 H607.09 V336.49 H608.99 V336.66 H612.29 V337.06 H614.96 V338.45 H617.89 V339.89 H621.20 V341.46 H623.61 V341.96 H625.56 V342.36 H628.20 V343.20 H629.87 V344.55 H632.54 V346.11 H633.84 V346.11 H635.79 V346.11 H639.14 V346.11 H641.45 V346.14 H644.19 V346.35 H646.73 V346.55 H650.19 V346.83 H652.43 V347.37 H654.20 V347.80 H655.41 V348.10 M518.19,263.35 V266.55 M521.68,265.24 V268.44 M524.39,266.41 V269.61 M527.79,269.12 V272.32 M530.76,272.33 V275.53 M538.71,282.25 V285.45 M544.10,286.62 V289.82 M546.70,288.06 V291.26 M560.24,307.74 V310.94 M562.66,309.27 V312.47 M565.18,310.59 V313.79 M568.29,312.67 V315.87 M570.85,313.91 V317.11 M584.21,322.59 V325.79 M593.70,327.87 V331.07 M599.30,331.27 V334.47 M605.99,334.50 V337.70 M610.64,334.86 V338.06 M613.62,335.26 V338.46 M616.42,336.65 V339.85 M624.59,340.16 V343.36 M626.88,340.56 V343.76 M629.03,341.40 V344.60 M631.20,342.75 V345.95 M637.47,344.31 V347.51 M653.31,345.57 V348.77" fill="none" stroke="#aa00be" stroke-width="2.6"/>
<circle cx="655.41" cy="365.21" r="2.0" fill="#5c0a55"/>
<circle cx="655.41" cy="348.10" r="2.0" fill="#aa00be"/>
<line x1="520.70" y1="382.80" x2="538.70" y2="382.80" stroke="#aa00be" stroke-width="1.9" />
<rect x="528.50" y="380.80" width="2.40" height="2.40" fill="#aa00be" />
<text x="550.2" y="387.8" font-size="12.5" font-style="italic">AIM2<tspan dy="-5.5" font-size="9.8">Low</tspan></text>
<line x1="520.70" y1="398.70" x2="538.70" y2="398.70" stroke="#5c0a55" stroke-width="1.9" />
<rect x="528.50" y="396.70" width="2.40" height="2.40" fill="#5c0a55" />
<text x="550.2" y="403.7" font-size="12.5" font-style="italic">AIM2<tspan dy="-5.5" font-size="9.8">High</tspan></text>
<line x1="601.90" y1="374.50" x2="601.90" y2="408.00" stroke="#555" stroke-width="1.3" />
<text x="606.6" y="390.0" font-size="9.6" text-anchor="start" font-weight="normal" font-style="normal" fill="#000" >p=0.12</text>
<text x="606.6" y="401.6" font-size="9.6" text-anchor="start" font-weight="normal" font-style="normal" fill="#000" >HR=1.3 [0.9, 1.7]</text>
<text transform="translate(0.10,477.90) scale(0.94,1)" font-size="23.8" font-weight="bold">D</text>
<line x1="69.50" y1="506.70" x2="69.50" y2="625.20" stroke="#000" stroke-width="1.1" />
<line x1="69.00" y1="625.20" x2="186.50" y2="625.20" stroke="#000" stroke-width="1.1" />
<line x1="65.50" y1="625.20" x2="69.50" y2="625.20" stroke="#000" stroke-width="1.1" />
<text x="64.2" y="629.6" font-size="12.5" text-anchor="end" font-weight="normal" font-style="normal" fill="#000" >0</text>
<line x1="65.50" y1="585.87" x2="69.50" y2="585.87" stroke="#000" stroke-width="1.1" />
<text x="64.2" y="590.3" font-size="12.5" text-anchor="end" font-weight="normal" font-style="normal" fill="#000" >5</text>
<line x1="65.50" y1="546.53" x2="69.50" y2="546.53" stroke="#000" stroke-width="1.1" />
<text x="64.2" y="550.9" font-size="12.5" text-anchor="end" font-weight="normal" font-style="normal" fill="#000" >10</text>
<line x1="65.50" y1="507.20" x2="69.50" y2="507.20" stroke="#000" stroke-width="1.1" />
<text x="64.2" y="511.6" font-size="12.5" text-anchor="end" font-weight="normal" font-style="normal" fill="#000" >15</text>
<text transform="translate(42,566.5) rotate(-90)" font-size="12.6" text-anchor="middle">% FLICA1<tspan dy="-5.5" font-size="10">+</tspan><tspan dy="5.5"> cells</tspan></text>
<text x="128.2" y="508.0" font-size="12" text-anchor="middle" font-weight="normal" font-style="normal" fill="#000" >LLC1</text>
<rect x="78.95" y="588.23" width="17.70" height="36.97" fill="#000" />
<rect x="100.15" y="579.18" width="17.70" height="46.02" fill="#800080" />
<rect x="121.35" y="583.50" width="17.70" height="41.70" fill="#800080" />
<rect x="142.85" y="575.64" width="17.70" height="49.56" fill="#800080" />
<rect x="164.05" y="530.80" width="17.70" height="94.40" fill="#800080" />
<line x1="109.00" y1="579.18" x2="109.00" y2="570.60" stroke="#a020a0" stroke-width="1.3" />
<line x1="104.50" y1="570.60" x2="113.50" y2="570.60" stroke="#a020a0" stroke-width="1.3" />
<line x1="130.40" y1="583.50" x2="130.40" y2="573.30" stroke="#a020a0" stroke-width="1.3" />
<line x1="125.90" y1="573.30" x2="134.90" y2="573.30" stroke="#a020a0" stroke-width="1.3" />
<line x1="151.70" y1="575.64" x2="151.70" y2="563.00" stroke="#a020a0" stroke-width="1.3" />
<line x1="147.20" y1="563.00" x2="156.20" y2="563.00" stroke="#a020a0" stroke-width="1.3" />
<line x1="172.80" y1="530.80" x2="172.80" y2="515.60" stroke="#a020a0" stroke-width="1.3" />
<line x1="168.30" y1="515.60" x2="177.30" y2="515.60" stroke="#a020a0" stroke-width="1.3" />
<circle cx="80.60" cy="586.20" r="2.3" fill="#8a8a8a"/>
<circle cx="85.40" cy="587.10" r="2.3" fill="#8a8a8a"/>
<circle cx="90.30" cy="585.80" r="2.3" fill="#8a8a8a"/>
<circle cx="94.60" cy="585.80" r="2.3" fill="#8a8a8a"/>
<circle cx="85.40" cy="593.90" r="2.3" fill="#8a8a8a"/>
<circle cx="90.30" cy="590.70" r="2.3" fill="#8a8a8a"/>
<circle cx="105.50" cy="568.20" r="2.3" fill="#5a0054"/>
<circle cx="112.40" cy="567.40" r="2.3" fill="#5a0054"/>
<circle cx="102.30" cy="581.80" r="2.3" fill="#5a0054"/>
<circle cx="109.00" cy="583.40" r="2.3" fill="#5a0054"/>
<circle cx="116.00" cy="584.20" r="2.3" fill="#5a0054"/>
<circle cx="102.30" cy="587.80" r="2.3" fill="#5a0054"/>
<circle cx="130.10" cy="564.20" r="2.3" fill="#5a0054"/>
<circle cx="130.10" cy="580.70" r="2.3" fill="#5a0054"/>
<circle cx="137.30" cy="585.00" r="2.3" fill="#5a0054"/>
<circle cx="130.10" cy="588.70" r="2.3" fill="#5a0054"/>
<circle cx="123.20" cy="591.80" r="2.3" fill="#5a0054"/>
<circle cx="137.30" cy="589.90" r="2.3" fill="#5a0054"/>
<circle cx="148.10" cy="563.00" r="2.3" fill="#5a0054"/>
<circle cx="155.00" cy="562.10" r="2.3" fill="#5a0054"/>
<circle cx="151.60" cy="571.90" r="2.3" fill="#5a0054"/>
<circle cx="151.60" cy="577.00" r="2.3" fill="#5a0054"/>
<circle cx="151.60" cy="582.30" r="2.3" fill="#5a0054"/>
<circle cx="151.60" cy="593.90" r="2.3" fill="#5a0054"/>
<circle cx="172.90" cy="512.30" r="2.3" fill="#5a0054"/>
<circle cx="168.50" cy="522.20" r="2.3" fill="#5a0054"/>
<circle cx="176.70" cy="524.70" r="2.3" fill="#5a0054"/>
<circle cx="169.10" cy="528.10" r="2.3" fill="#5a0054"/>
<circle cx="172.90" cy="544.00" r="2.3" fill="#5a0054"/>
<circle cx="172.90" cy="552.80" r="2.3" fill="#5a0054"/>
<text x="108.6" y="560.9" font-size="10" text-anchor="middle" font-weight="normal" font-style="normal" fill="#222" >n.s.</text>
<text x="129.7" y="560.9" font-size="10" text-anchor="middle" font-weight="normal" font-style="normal" fill="#222" >n.s.</text>
<text x="148.2" y="552.9" font-size="8.6" text-anchor="middle" font-weight="normal" font-style="normal" fill="#222" >p=0.049</text>
<text x="171.9" y="508.6" font-size="8.6" text-anchor="middle" font-weight="normal" font-style="normal" fill="#222" >p&lt;0.0001</text>
<rect x="73.30" y="629.90" width="112.60" height="21.80" fill="#b0b0b0" />
<defs><linearGradient id="ilg" x1="0" y1="0" x2="0" y2="1"><stop offset="0" stop-color="#fff" stop-opacity="0.12"/><stop offset="0.5" stop-color="#fff" stop-opacity="0"/><stop offset="1" stop-color="#fff" stop-opacity="0.1"/></linearGradient></defs>
<rect x="78.0" y="633" width="18" height="15" rx="4" fill="#000" fill-opacity="0.08" filter="url(#bl18)"/>
<rect x="99.8" y="633" width="18" height="15" rx="4" fill="#000" fill-opacity="0.1" filter="url(#bl18)"/>
<rect x="120.6" y="633" width="18" height="15" rx="4" fill="#000" fill-opacity="0.08" filter="url(#bl18)"/>
<rect x="142.5" y="633" width="18" height="15" rx="4" fill="#000" fill-opacity="0.12" filter="url(#bl18)"/>
<rect x="161.5" y="632.5" width="22" height="15" rx="6" fill="#000" fill-opacity="0.45" filter="url(#bl25)"/>
<rect x="73.30" y="629.90" width="112.60" height="21.80" fill="url(#ilg)" />
<rect x="73.30" y="629.90" width="112.60" height="21.80" fill="none" stroke="#222" stroke-width="1.2"/>
<line x1="86.90" y1="625.20" x2="86.90" y2="629.00" stroke="#000" stroke-width="1" />
<line x1="108.80" y1="625.20" x2="108.80" y2="629.00" stroke="#000" stroke-width="1" />
<line x1="129.60" y1="625.20" x2="129.60" y2="629.00" stroke="#000" stroke-width="1" />
<line x1="151.50" y1="625.20" x2="151.50" y2="629.00" stroke="#000" stroke-width="1" />
<line x1="172.30" y1="625.20" x2="172.30" y2="629.00" stroke="#000" stroke-width="1" />
<line x1="185.90" y1="640.50" x2="189.50" y2="640.50" stroke="#000" stroke-width="1" />
<text x="192.0" y="645.0" font-size="12" text-anchor="start" font-weight="normal" font-style="normal" fill="#000" >17</text>
<text x="66.7" y="646.5" font-size="12" text-anchor="end" font-weight="normal" font-style="normal" fill="#000" >IL-1β</text>
<text x="21.5" y="675.0" font-size="12" text-anchor="start" font-weight="normal" font-style="normal" fill="#000" >Activator:</text>
<text x="87.2" y="667.0" font-size="12" text-anchor="middle" font-weight="normal" font-style="normal" fill="#000" >-</text>
<text transform="translate(114.8,658.8) rotate(-90)" font-size="12" text-anchor="end">LPS</text>
<text transform="translate(132.9,658.8) rotate(-90)" font-size="12" text-anchor="end">NLRP1</text>
<text transform="translate(154.3,658.8) rotate(-90)" font-size="12" text-anchor="end">NLRP3</text>
<text transform="translate(176.7,658.8) rotate(-90)" font-size="12" text-anchor="end">AIM2</text>
<text transform="translate(243.60,477.90) scale(0.94,1)" font-size="23.8" font-weight="bold">E</text>
<line x1="305.10" y1="507.50" x2="305.10" y2="649.20" stroke="#000" stroke-width="1.1" />
<line x1="304.60" y1="649.20" x2="428.40" y2="649.20" stroke="#000" stroke-width="1.1" />
<line x1="301.10" y1="649.20" x2="305.10" y2="649.20" stroke="#000" stroke-width="1.1" />
<text x="299.8" y="653.6" font-size="12.5" text-anchor="end" font-weight="normal" font-style="normal" fill="#000" >0</text>
<line x1="301.10" y1="602.13" x2="305.10" y2="602.13" stroke="#000" stroke-width="1.1" />
<text x="299.8" y="606.5" font-size="12.5" text-anchor="end" font-weight="normal" font-style="normal" fill="#000" >50</text>
<line x1="301.10" y1="555.07" x2="305.10" y2="555.07" stroke="#000" stroke-width="1.1" />
<text x="299.8" y="559.5" font-size="12.5" text-anchor="end" font-weight="normal" font-style="normal" fill="#000" >100</text>
<line x1="301.10" y1="508.01" x2="305.10" y2="508.01" stroke="#000" stroke-width="1.1" />
<text x="299.8" y="512.4" font-size="12.5" text-anchor="end" font-weight="normal" font-style="normal" fill="#000" >150</text>
<text transform="translate(269.5,578.7) rotate(-90)" font-size="12.6" text-anchor="middle"><tspan font-style="italic">Cxcl10/Actb</tspan> mRNA</text>
<text x="362.5" y="508.5" font-size="12" text-anchor="middle" font-weight="normal" font-style="normal" fill="#000" >LLC1</text>
<rect x="399.60" y="573.60" width="19.40" height="75.60" fill="#800080" />
<line x1="409.30" y1="573.60" x2="409.30" y2="531.30" stroke="#a020a0" stroke-width="1.3" />
<line x1="404.20" y1="531.30" x2="414.20" y2="531.30" stroke="#a020a0" stroke-width="1.3" />
<circle cx="408.70" cy="523.90" r="2.7" fill="#5a0054"/>
<circle cx="408.70" cy="557.30" r="2.7" fill="#5a0054"/>
<circle cx="408.70" cy="587.00" r="2.7" fill="#5a0054"/>
<circle cx="402.00" cy="596.00" r="2.7" fill="#5a0054"/>
<circle cx="407.10" cy="599.90" r="2.7" fill="#5a0054"/>
<circle cx="415.80" cy="601.20" r="2.7" fill="#5a0054"/>
<circle cx="402.00" cy="604.60" r="2.7" fill="#5a0054"/>
<circle cx="411.00" cy="604.30" r="2.7" fill="#5a0054"/>
<circle cx="318.30" cy="648.30" r="2.3" fill="#8c8c8c"/>
<circle cx="320.40" cy="648.30" r="2.3" fill="#8c8c8c"/>
<circle cx="322.50" cy="648.30" r="2.3" fill="#8c8c8c"/>
<circle cx="324.60" cy="648.30" r="2.3" fill="#8c8c8c"/>
<circle cx="326.70" cy="648.30" r="2.3" fill="#8c8c8c"/>
<circle cx="328.80" cy="648.30" r="2.3" fill="#8c8c8c"/>
<circle cx="330.90" cy="648.30" r="2.3" fill="#8c8c8c"/>
<circle cx="333.00" cy="648.30" r="2.3" fill="#8c8c8c"/>
<circle cx="338.30" cy="648.60" r="2.9" fill="#5a0054"/>
<circle cx="341.00" cy="648.60" r="2.9" fill="#5a0054"/>
<circle cx="343.50" cy="648.60" r="2.9" fill="#5a0054"/>
<circle cx="346.00" cy="648.60" r="2.9" fill="#5a0054"/>
<circle cx="348.50" cy="648.60" r="2.9" fill="#5a0054"/>
<circle cx="351.00" cy="648.60" r="2.9" fill="#5a0054"/>
<circle cx="352.40" cy="648.60" r="2.9" fill="#5a0054"/>
<circle cx="338.50" cy="646.00" r="2.9" fill="#5a0054"/>
<circle cx="341.20" cy="642.60" r="2.9" fill="#5a0054"/>
<circle cx="347.50" cy="641.50" r="2.7" fill="#5a0054"/>
<circle cx="350.40" cy="638.60" r="2.9" fill="#5a0054"/>
<circle cx="360.20" cy="648.20" r="2.9" fill="#5a0054"/>
<circle cx="362.80" cy="648.20" r="2.9" fill="#5a0054"/>
<circle cx="365.40" cy="648.20" r="2.9" fill="#5a0054"/>
<circle cx="368.00" cy="648.20" r="2.9" fill="#5a0054"/>
<circle cx="370.60" cy="648.20" r="2.9" fill="#5a0054"/>
<circle cx="373.00" cy="648.20" r="2.9" fill="#5a0054"/>
<circle cx="360.80" cy="645.80" r="2.9" fill="#5a0054"/>
<circle cx="381.20" cy="647.80" r="2.9" fill="#5a0054"/>
<circle cx="383.80" cy="647.80" r="2.9" fill="#5a0054"/>
<circle cx="386.40" cy="647.80" r="2.9" fill="#5a0054"/>
<circle cx="389.00" cy="647.80" r="2.9" fill="#5a0054"/>
<circle cx="391.60" cy="647.80" r="2.9" fill="#5a0054"/>
<circle cx="394.40" cy="647.80" r="2.9" fill="#5a0054"/>
<circle cx="381.80" cy="645.90" r="2.9" fill="#5a0054"/>
<text x="346.5" y="633.5" font-size="9.6" text-anchor="middle" font-weight="normal" font-style="normal" fill="#222" >n.s.</text>
<text x="367.5" y="639.7" font-size="9.6" text-anchor="middle" font-weight="normal" font-style="normal" fill="#222" >n.s.</text>
<text x="386.5" y="640.5" font-size="9.6" text-anchor="middle" font-weight="normal" font-style="normal" fill="#222" >n.s.</text>
<text x="405.3" y="519.8" font-size="8.4" text-anchor="middle" font-weight="normal" font-style="normal" fill="#222" >p&lt;0.0001</text>
<text x="262.9" y="666.0" font-size="12" text-anchor="start" font-weight="normal" font-style="normal" fill="#000" >Activator:</text>
<text x="325.5" y="666.0" font-size="12" text-anchor="middle" font-weight="normal" font-style="normal" fill="#000" >-</text>
<text transform="translate(352.0,659) rotate(-90)" font-size="12.5" text-anchor="end">LPS</text>
<text transform="translate(373.0,659) rotate(-90)" font-size="12.5" text-anchor="end">NLRP1</text>
<text transform="translate(393.5,659) rotate(-90)" font-size="12.5" text-anchor="end">NLRP3</text>
<text transform="translate(415.5,659) rotate(-90)" font-size="12.5" text-anchor="end">AIM2</text>
<text transform="translate(480.80,477.90) scale(0.94,1)" font-size="23.8" font-weight="bold">F</text>
<line x1="536.10" y1="497.10" x2="536.10" y2="656.90" stroke="#000" stroke-width="1.1" />
<line x1="535.60" y1="656.90" x2="643.30" y2="656.90" stroke="#000" stroke-width="1.1" />
<line x1="532.10" y1="656.90" x2="536.10" y2="656.90" stroke="#000" stroke-width="1.1" />
<text x="530.8" y="661.3" font-size="12.5" text-anchor="end" font-weight="normal" font-style="normal" fill="#000" >0</text>
<line x1="532.10" y1="617.07" x2="536.10" y2="617.07" stroke="#000" stroke-width="1.1" />
<text x="530.8" y="621.5" font-size="12.5" text-anchor="end" font-weight="normal" font-style="normal" fill="#000" >50</text>
<line x1="532.10" y1="577.25" x2="536.10" y2="577.25" stroke="#000" stroke-width="1.1" />
<text x="530.8" y="581.6" font-size="12.5" text-anchor="end" font-weight="normal" font-style="normal" fill="#000" >100</text>
<line x1="532.10" y1="537.42" x2="536.10" y2="537.42" stroke="#000" stroke-width="1.1" />
<text x="530.8" y="541.8" font-size="12.5" text-anchor="end" font-weight="normal" font-style="normal" fill="#000" >150</text>
<line x1="532.10" y1="497.60" x2="536.10" y2="497.60" stroke="#000" stroke-width="1.1" />
<text x="530.8" y="502.0" font-size="12.5" text-anchor="end" font-weight="normal" font-style="normal" fill="#000" >200</text>
<line x1="564.00" y1="656.90" x2="564.00" y2="660.90" stroke="#000" stroke-width="1.1" />
<line x1="614.30" y1="656.90" x2="614.30" y2="660.90" stroke="#000" stroke-width="1.1" />
<text x="564.0" y="674.5" font-size="12" text-anchor="middle" font-weight="normal" font-style="normal" fill="#000" >-</text>
<text x="614.3" y="675.0" font-size="12" text-anchor="middle" font-weight="normal" font-style="normal" fill="#000" >+</text>
<text x="587.7" y="692.0" font-size="12.3" text-anchor="middle" font-weight="normal" font-style="normal" fill="#000" >Poly(dA:dT)</text>
<text transform="translate(507.5,580.8) rotate(-90)" font-size="12.5" text-anchor="middle"><tspan font-style="italic">Cxcl10/Actb</tspan> mRNA</text>
<rect x="593.80" y="554.95" width="13.10" height="101.95" fill="#000" />
<rect x="607.90" y="633.10" width="13.40" height="23.80" fill="#a000e0" />
<rect x="623.10" y="643.80" width="12.70" height="13.10" fill="#6c0a98" />
<line x1="600.25" y1="554.95" x2="600.25" y2="526.50" stroke="#000" stroke-width="1.2" />
<line x1="596.50" y1="526.50" x2="604.00" y2="526.50" stroke="#000" stroke-width="1.2" />
<circle cx="595.60" cy="522.30" r="2.3" fill="#8a8a8a"/>
<circle cx="605.00" cy="522.30" r="2.3" fill="#8a8a8a"/>
<circle cx="600.30" cy="533.80" r="2.3" fill="#8a8a8a"/>
<circle cx="600.30" cy="542.00" r="2.3" fill="#8a8a8a"/>
<circle cx="600.30" cy="566.80" r="2.3" fill="#8a8a8a"/>
<circle cx="600.30" cy="572.00" r="2.3" fill="#8a8a8a"/>
<circle cx="600.30" cy="578.50" r="2.3" fill="#8a8a8a"/>
<circle cx="600.30" cy="595.50" r="2.3" fill="#8a8a8a"/>
<line x1="614.80" y1="633.10" x2="614.80" y2="616.20" stroke="#a000e0" stroke-width="1.2" />
<line x1="611.70" y1="616.20" x2="617.80" y2="616.20" stroke="#a000e0" stroke-width="1.2" />
<circle cx="614.80" cy="613.10" r="2.2" fill="#6e00a0"/>
<circle cx="610.00" cy="618.60" r="2.2" fill="#6e00a0"/>
<circle cx="614.80" cy="617.50" r="2.2" fill="#6e00a0"/>
<circle cx="614.80" cy="621.50" r="2.2" fill="#6e00a0"/>
<circle cx="619.60" cy="645.10" r="2.2" fill="#6e00a0"/>
<circle cx="614.80" cy="648.60" r="2.2" fill="#6e00a0"/>
<circle cx="610.00" cy="651.70" r="2.2" fill="#6e00a0"/>
<circle cx="619.60" cy="649.90" r="2.2" fill="#6e00a0"/>
<circle cx="625.70" cy="641.60" r="2.3" fill="#4e0068"/>
<circle cx="628.80" cy="642.00" r="2.3" fill="#4e0068"/>
<circle cx="632.70" cy="638.10" r="2.3" fill="#4e0068"/>
<circle cx="631.00" cy="640.30" r="2.3" fill="#4e0068"/>
<circle cx="634.50" cy="643.30" r="2.3" fill="#4e0068"/>
<circle cx="624.40" cy="643.80" r="2.3" fill="#4e0068"/>
<circle cx="630.50" cy="644.70" r="2.3" fill="#4e0068"/>
<circle cx="627.00" cy="644.50" r="2.3" fill="#4e0068"/>
<circle cx="544.50" cy="656.30" r="2.3" fill="#8a8a8a"/>
<circle cx="558.30" cy="656.30" r="2.3" fill="#7a00a8"/>
<circle cx="572.00" cy="656.30" r="2.3" fill="#4e0068"/>
<circle cx="546.70" cy="656.30" r="2.3" fill="#8a8a8a"/>
<circle cx="560.50" cy="656.30" r="2.3" fill="#7a00a8"/>
<circle cx="574.20" cy="656.30" r="2.3" fill="#4e0068"/>
<circle cx="548.90" cy="656.30" r="2.3" fill="#8a8a8a"/>
<circle cx="562.70" cy="656.30" r="2.3" fill="#7a00a8"/>
<circle cx="576.40" cy="656.30" r="2.3" fill="#4e0068"/>
<circle cx="551.10" cy="656.30" r="2.3" fill="#8a8a8a"/>
<circle cx="564.90" cy="656.30" r="2.3" fill="#7a00a8"/>
<circle cx="578.60" cy="656.30" r="2.3" fill="#4e0068"/>
<circle cx="553.30" cy="656.30" r="2.3" fill="#8a8a8a"/>
<circle cx="567.10" cy="656.30" r="2.3" fill="#7a00a8"/>
<circle cx="580.80" cy="656.30" r="2.3" fill="#4e0068"/>
<circle cx="555.50" cy="656.30" r="2.3" fill="#8a8a8a"/>
<circle cx="569.30" cy="656.30" r="2.3" fill="#7a00a8"/>
<circle cx="583.00" cy="656.30" r="2.3" fill="#4e0068"/>
<rect x="539.90" y="492.80" width="10.10" height="9.20" fill="#000" />
<rect x="539.90" y="507.00" width="10.10" height="9.20" fill="#a000e0" />
<rect x="539.90" y="521.30" width="10.10" height="9.20" fill="#6c0a98" />
<text x="557.0" y="501.1" font-size="13" text-anchor="start" font-weight="normal" font-style="normal" fill="#000" >Control</text>
<text x="557" y="515.6" font-size="13" font-style="italic">Aim2<tspan dy="-5" font-size="9.5" font-style="normal">KD</tspan></text>
<text x="557" y="530.1" font-size="13" font-style="italic">Il1b<tspan dy="-5" font-size="9.5" font-style="normal">KD</tspan></text>
<text x="604.0" y="500.5" font-size="8.2" text-anchor="start" font-weight="normal" font-style="normal" fill="#000" >p=0.0005</text>
<text x="599.2" y="514.5" font-size="8.2" text-anchor="start" font-weight="normal" font-style="normal" fill="#000" >p=0.0007</text>
<line x1="603.00" y1="503.50" x2="629.00" y2="503.50" stroke="#000" stroke-width="0.8" />
<line x1="604.00" y1="517.00" x2="618.00" y2="517.00" stroke="#000" stroke-width="0.8" />
</svg></body></html>
